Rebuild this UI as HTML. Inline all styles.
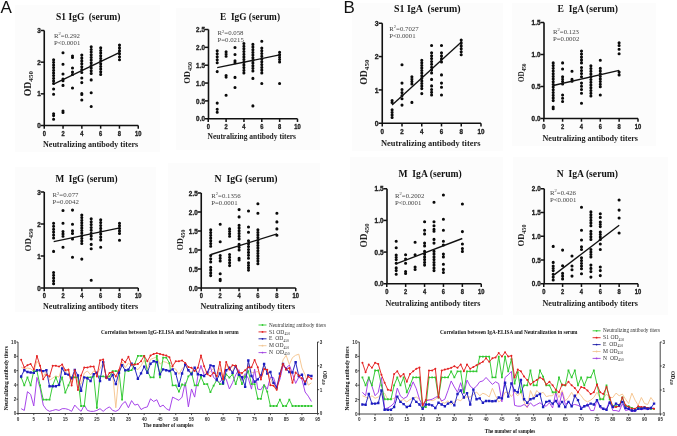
<!DOCTYPE html><html><head><meta charset="utf-8"><style>html,body{margin:0;padding:0;background:#fff;}svg{display:block;filter:blur(0.3px);}</style></head><body>
<svg width="677" height="436" viewBox="0 0 677 436">
<rect x="0" y="0" width="677" height="436" fill="#fff"/>
<rect x="15" y="5" width="145" height="147" fill="#fcfcfc"/>
<rect x="176" y="8" width="144" height="142" fill="#fcfcfc"/>
<rect x="352" y="3" width="151" height="148" fill="#fcfcfc"/>
<rect x="512" y="3" width="144" height="143" fill="#fcfcfc"/>
<rect x="15" y="167" width="141" height="145" fill="#fcfcfc"/>
<rect x="168" y="163" width="152" height="150" fill="#fcfcfc"/>
<rect x="350" y="157" width="153" height="158" fill="#fcfcfc"/>
<rect x="513" y="157" width="155" height="158" fill="#fcfcfc"/>
<text x="0.6" y="12.9" font-family='"Liberation Sans", sans-serif' font-size="17" fill="#111">A</text>
<text x="343.4" y="12.7" font-family='"Liberation Sans", sans-serif' font-size="17" fill="#111">B</text>
<path d="M44.25,30.50 V125.50 H138.25" fill="none" stroke="#111" stroke-width="1.6"/>
<line x1="40.65" y1="125.50" x2="44.25" y2="125.50" stroke="#111" stroke-width="1.5"/>
<text transform="translate(40.65,128.10) scale(0.88,1)" text-anchor="end" font-family='"Liberation Sans", sans-serif' font-weight="bold" font-size="7.2" fill="#222" stroke="#222" stroke-width="0.35">0</text>
<line x1="40.65" y1="93.83" x2="44.25" y2="93.83" stroke="#111" stroke-width="1.5"/>
<text transform="translate(40.65,96.43) scale(0.88,1)" text-anchor="end" font-family='"Liberation Sans", sans-serif' font-weight="bold" font-size="7.2" fill="#222" stroke="#222" stroke-width="0.35">1</text>
<line x1="40.65" y1="62.17" x2="44.25" y2="62.17" stroke="#111" stroke-width="1.5"/>
<text transform="translate(40.65,64.77) scale(0.88,1)" text-anchor="end" font-family='"Liberation Sans", sans-serif' font-weight="bold" font-size="7.2" fill="#222" stroke="#222" stroke-width="0.35">2</text>
<line x1="40.65" y1="30.50" x2="44.25" y2="30.50" stroke="#111" stroke-width="1.5"/>
<text transform="translate(40.65,33.10) scale(0.88,1)" text-anchor="end" font-family='"Liberation Sans", sans-serif' font-weight="bold" font-size="7.2" fill="#222" stroke="#222" stroke-width="0.35">3</text>
<line x1="44.25" y1="125.50" x2="44.25" y2="128.70" stroke="#111" stroke-width="1.5"/>
<text transform="translate(44.25,135.70) scale(0.8,1)" text-anchor="middle" font-family='"Liberation Sans", sans-serif' font-weight="bold" font-size="7.2" fill="#222" stroke="#222" stroke-width="0.35">0</text>
<line x1="63.05" y1="125.50" x2="63.05" y2="128.70" stroke="#111" stroke-width="1.5"/>
<text transform="translate(63.05,135.70) scale(0.8,1)" text-anchor="middle" font-family='"Liberation Sans", sans-serif' font-weight="bold" font-size="7.2" fill="#222" stroke="#222" stroke-width="0.35">2</text>
<line x1="81.85" y1="125.50" x2="81.85" y2="128.70" stroke="#111" stroke-width="1.5"/>
<text transform="translate(81.85,135.70) scale(0.8,1)" text-anchor="middle" font-family='"Liberation Sans", sans-serif' font-weight="bold" font-size="7.2" fill="#222" stroke="#222" stroke-width="0.35">4</text>
<line x1="100.65" y1="125.50" x2="100.65" y2="128.70" stroke="#111" stroke-width="1.5"/>
<text transform="translate(100.65,135.70) scale(0.8,1)" text-anchor="middle" font-family='"Liberation Sans", sans-serif' font-weight="bold" font-size="7.2" fill="#222" stroke="#222" stroke-width="0.35">6</text>
<line x1="119.45" y1="125.50" x2="119.45" y2="128.70" stroke="#111" stroke-width="1.5"/>
<text transform="translate(119.45,135.70) scale(0.8,1)" text-anchor="middle" font-family='"Liberation Sans", sans-serif' font-weight="bold" font-size="7.2" fill="#222" stroke="#222" stroke-width="0.35">8</text>
<line x1="138.25" y1="125.50" x2="138.25" y2="128.70" stroke="#111" stroke-width="1.5"/>
<text transform="translate(138.25,135.70) scale(0.8,1)" text-anchor="middle" font-family='"Liberation Sans", sans-serif' font-weight="bold" font-size="7.2" fill="#222" stroke="#222" stroke-width="0.35">10</text>
<text x="56.00" y="19.80" font-family='"Liberation Serif", serif' font-weight="bold" font-size="10" fill="#111" textLength="64.5" lengthAdjust="spacingAndGlyphs">S1 IgG  (serum)</text>
<text x="43.00" y="146.60" font-family='"Liberation Serif", serif' font-weight="bold" font-size="9" fill="#222" textLength="95.25" lengthAdjust="spacingAndGlyphs">Neutralizing antibody titers</text>
<text transform="translate(30.90,83.70) rotate(-90)" text-anchor="middle" font-family='"Liberation Serif", serif' font-weight="bold" font-size="9.8" fill="#222">OD<tspan font-size="7.06" dy="2.16">450</tspan></text>
<text x="54.00" y="37.80" font-family='"Liberation Serif", serif' font-size="6.8" fill="#444">R<tspan font-size="4.5" dy="-2.5">2</tspan><tspan dy="2.5">=0.292</tspan></text>
<text x="54.00" y="45.20" font-family='"Liberation Serif", serif' font-size="6.8" fill="#444">P&lt;0.0001</text>
<path d="M53.6,59.7m-1.55,0a1.55,1.55 0 1,0 3.1,0a1.55,1.55 0 1,0 -3.1,0M53.6,62.3m-1.55,0a1.55,1.55 0 1,0 3.1,0a1.55,1.55 0 1,0 -3.1,0M53.6,65.0m-1.55,0a1.55,1.55 0 1,0 3.1,0a1.55,1.55 0 1,0 -3.1,0M53.6,67.6m-1.55,0a1.55,1.55 0 1,0 3.1,0a1.55,1.55 0 1,0 -3.1,0M53.6,70.3m-1.55,0a1.55,1.55 0 1,0 3.1,0a1.55,1.55 0 1,0 -3.1,0M53.6,72.9m-1.55,0a1.55,1.55 0 1,0 3.1,0a1.55,1.55 0 1,0 -3.1,0M53.6,75.6m-1.55,0a1.55,1.55 0 1,0 3.1,0a1.55,1.55 0 1,0 -3.1,0M53.6,78.2m-1.55,0a1.55,1.55 0 1,0 3.1,0a1.55,1.55 0 1,0 -3.1,0M53.6,80.9m-1.55,0a1.55,1.55 0 1,0 3.1,0a1.55,1.55 0 1,0 -3.1,0M53.6,83.5m-1.55,0a1.55,1.55 0 1,0 3.1,0a1.55,1.55 0 1,0 -3.1,0M53.6,89.0m-1.55,0a1.55,1.55 0 1,0 3.1,0a1.55,1.55 0 1,0 -3.1,0M53.6,94.2m-1.55,0a1.55,1.55 0 1,0 3.1,0a1.55,1.55 0 1,0 -3.1,0M53.6,113.8m-1.55,0a1.55,1.55 0 1,0 3.1,0a1.55,1.55 0 1,0 -3.1,0M53.6,115.6m-1.55,0a1.55,1.55 0 1,0 3.1,0a1.55,1.55 0 1,0 -3.1,0M53.6,119.3m-1.55,0a1.55,1.55 0 1,0 3.1,0a1.55,1.55 0 1,0 -3.1,0M63.0,52.7m-1.55,0a1.55,1.55 0 1,0 3.1,0a1.55,1.55 0 1,0 -3.1,0M63.0,64.3m-1.55,0a1.55,1.55 0 1,0 3.1,0a1.55,1.55 0 1,0 -3.1,0M63.0,74.0m-1.55,0a1.55,1.55 0 1,0 3.1,0a1.55,1.55 0 1,0 -3.1,0M63.0,79.0m-1.55,0a1.55,1.55 0 1,0 3.1,0a1.55,1.55 0 1,0 -3.1,0M63.0,80.8m-1.55,0a1.55,1.55 0 1,0 3.1,0a1.55,1.55 0 1,0 -3.1,0M63.0,85.4m-1.55,0a1.55,1.55 0 1,0 3.1,0a1.55,1.55 0 1,0 -3.1,0M63.0,111.0m-1.55,0a1.55,1.55 0 1,0 3.1,0a1.55,1.55 0 1,0 -3.1,0M63.0,112.5m-1.55,0a1.55,1.55 0 1,0 3.1,0a1.55,1.55 0 1,0 -3.1,0M72.5,56.0m-1.55,0a1.55,1.55 0 1,0 3.1,0a1.55,1.55 0 1,0 -3.1,0M72.5,57.5m-1.55,0a1.55,1.55 0 1,0 3.1,0a1.55,1.55 0 1,0 -3.1,0M72.5,68.0m-1.55,0a1.55,1.55 0 1,0 3.1,0a1.55,1.55 0 1,0 -3.1,0M72.5,72.0m-1.55,0a1.55,1.55 0 1,0 3.1,0a1.55,1.55 0 1,0 -3.1,0M72.5,74.4m-1.55,0a1.55,1.55 0 1,0 3.1,0a1.55,1.55 0 1,0 -3.1,0M72.5,88.0m-1.55,0a1.55,1.55 0 1,0 3.1,0a1.55,1.55 0 1,0 -3.1,0M81.8,55.1m-1.55,0a1.55,1.55 0 1,0 3.1,0a1.55,1.55 0 1,0 -3.1,0M81.8,58.0m-1.55,0a1.55,1.55 0 1,0 3.1,0a1.55,1.55 0 1,0 -3.1,0M81.8,60.9m-1.55,0a1.55,1.55 0 1,0 3.1,0a1.55,1.55 0 1,0 -3.1,0M81.8,63.8m-1.55,0a1.55,1.55 0 1,0 3.1,0a1.55,1.55 0 1,0 -3.1,0M81.8,66.7m-1.55,0a1.55,1.55 0 1,0 3.1,0a1.55,1.55 0 1,0 -3.1,0M81.8,69.6m-1.55,0a1.55,1.55 0 1,0 3.1,0a1.55,1.55 0 1,0 -3.1,0M81.8,72.5m-1.55,0a1.55,1.55 0 1,0 3.1,0a1.55,1.55 0 1,0 -3.1,0M81.8,78.0m-1.55,0a1.55,1.55 0 1,0 3.1,0a1.55,1.55 0 1,0 -3.1,0M81.8,82.6m-1.55,0a1.55,1.55 0 1,0 3.1,0a1.55,1.55 0 1,0 -3.1,0M81.8,93.6m-1.55,0a1.55,1.55 0 1,0 3.1,0a1.55,1.55 0 1,0 -3.1,0M81.8,94.5m-1.55,0a1.55,1.55 0 1,0 3.1,0a1.55,1.55 0 1,0 -3.1,0M81.8,100.0m-1.55,0a1.55,1.55 0 1,0 3.1,0a1.55,1.55 0 1,0 -3.1,0M91.2,46.8m-1.55,0a1.55,1.55 0 1,0 3.1,0a1.55,1.55 0 1,0 -3.1,0M91.2,49.5m-1.55,0a1.55,1.55 0 1,0 3.1,0a1.55,1.55 0 1,0 -3.1,0M91.2,52.1m-1.55,0a1.55,1.55 0 1,0 3.1,0a1.55,1.55 0 1,0 -3.1,0M91.2,54.8m-1.55,0a1.55,1.55 0 1,0 3.1,0a1.55,1.55 0 1,0 -3.1,0M91.2,57.4m-1.55,0a1.55,1.55 0 1,0 3.1,0a1.55,1.55 0 1,0 -3.1,0M91.2,60.1m-1.55,0a1.55,1.55 0 1,0 3.1,0a1.55,1.55 0 1,0 -3.1,0M91.2,62.8m-1.55,0a1.55,1.55 0 1,0 3.1,0a1.55,1.55 0 1,0 -3.1,0M91.2,65.4m-1.55,0a1.55,1.55 0 1,0 3.1,0a1.55,1.55 0 1,0 -3.1,0M91.2,68.1m-1.55,0a1.55,1.55 0 1,0 3.1,0a1.55,1.55 0 1,0 -3.1,0M91.2,70.7m-1.55,0a1.55,1.55 0 1,0 3.1,0a1.55,1.55 0 1,0 -3.1,0M91.2,73.4m-1.55,0a1.55,1.55 0 1,0 3.1,0a1.55,1.55 0 1,0 -3.1,0M91.2,79.9m-1.55,0a1.55,1.55 0 1,0 3.1,0a1.55,1.55 0 1,0 -3.1,0M91.2,92.7m-1.55,0a1.55,1.55 0 1,0 3.1,0a1.55,1.55 0 1,0 -3.1,0M91.2,106.5m-1.55,0a1.55,1.55 0 1,0 3.1,0a1.55,1.55 0 1,0 -3.1,0M100.7,47.8m-1.55,0a1.55,1.55 0 1,0 3.1,0a1.55,1.55 0 1,0 -3.1,0M100.7,50.5m-1.55,0a1.55,1.55 0 1,0 3.1,0a1.55,1.55 0 1,0 -3.1,0M100.7,53.1m-1.55,0a1.55,1.55 0 1,0 3.1,0a1.55,1.55 0 1,0 -3.1,0M100.7,55.8m-1.55,0a1.55,1.55 0 1,0 3.1,0a1.55,1.55 0 1,0 -3.1,0M100.7,58.4m-1.55,0a1.55,1.55 0 1,0 3.1,0a1.55,1.55 0 1,0 -3.1,0M100.7,61.1m-1.55,0a1.55,1.55 0 1,0 3.1,0a1.55,1.55 0 1,0 -3.1,0M100.7,63.8m-1.55,0a1.55,1.55 0 1,0 3.1,0a1.55,1.55 0 1,0 -3.1,0M100.7,66.4m-1.55,0a1.55,1.55 0 1,0 3.1,0a1.55,1.55 0 1,0 -3.1,0M100.7,69.1m-1.55,0a1.55,1.55 0 1,0 3.1,0a1.55,1.55 0 1,0 -3.1,0M100.7,71.7m-1.55,0a1.55,1.55 0 1,0 3.1,0a1.55,1.55 0 1,0 -3.1,0M100.7,74.4m-1.55,0a1.55,1.55 0 1,0 3.1,0a1.55,1.55 0 1,0 -3.1,0M119.5,45.0m-1.55,0a1.55,1.55 0 1,0 3.1,0a1.55,1.55 0 1,0 -3.1,0M119.5,47.9m-1.55,0a1.55,1.55 0 1,0 3.1,0a1.55,1.55 0 1,0 -3.1,0M119.5,50.9m-1.55,0a1.55,1.55 0 1,0 3.1,0a1.55,1.55 0 1,0 -3.1,0M119.5,53.8m-1.55,0a1.55,1.55 0 1,0 3.1,0a1.55,1.55 0 1,0 -3.1,0M119.5,56.8m-1.55,0a1.55,1.55 0 1,0 3.1,0a1.55,1.55 0 1,0 -3.1,0M119.5,59.7m-1.55,0a1.55,1.55 0 1,0 3.1,0a1.55,1.55 0 1,0 -3.1,0" fill="#0a0a0a"/>
<line x1="54.1" y1="83.9" x2="119.8" y2="52.3" stroke="#111" stroke-width="1.35"/>
<path d="M208.50,29.50 V118.75 H297.50" fill="none" stroke="#111" stroke-width="1.6"/>
<line x1="204.90" y1="118.75" x2="208.50" y2="118.75" stroke="#111" stroke-width="1.5"/>
<text transform="translate(204.90,121.35) scale(0.88,1)" text-anchor="end" font-family='"Liberation Sans", sans-serif' font-weight="bold" font-size="7.2" fill="#222" stroke="#222" stroke-width="0.35">0.0</text>
<line x1="204.90" y1="100.90" x2="208.50" y2="100.90" stroke="#111" stroke-width="1.5"/>
<text transform="translate(204.90,103.50) scale(0.88,1)" text-anchor="end" font-family='"Liberation Sans", sans-serif' font-weight="bold" font-size="7.2" fill="#222" stroke="#222" stroke-width="0.35">0.5</text>
<line x1="204.90" y1="83.05" x2="208.50" y2="83.05" stroke="#111" stroke-width="1.5"/>
<text transform="translate(204.90,85.65) scale(0.88,1)" text-anchor="end" font-family='"Liberation Sans", sans-serif' font-weight="bold" font-size="7.2" fill="#222" stroke="#222" stroke-width="0.35">1.0</text>
<line x1="204.90" y1="65.20" x2="208.50" y2="65.20" stroke="#111" stroke-width="1.5"/>
<text transform="translate(204.90,67.80) scale(0.88,1)" text-anchor="end" font-family='"Liberation Sans", sans-serif' font-weight="bold" font-size="7.2" fill="#222" stroke="#222" stroke-width="0.35">1.5</text>
<line x1="204.90" y1="47.35" x2="208.50" y2="47.35" stroke="#111" stroke-width="1.5"/>
<text transform="translate(204.90,49.95) scale(0.88,1)" text-anchor="end" font-family='"Liberation Sans", sans-serif' font-weight="bold" font-size="7.2" fill="#222" stroke="#222" stroke-width="0.35">2.0</text>
<line x1="204.90" y1="29.50" x2="208.50" y2="29.50" stroke="#111" stroke-width="1.5"/>
<text transform="translate(204.90,32.10) scale(0.88,1)" text-anchor="end" font-family='"Liberation Sans", sans-serif' font-weight="bold" font-size="7.2" fill="#222" stroke="#222" stroke-width="0.35">2.5</text>
<line x1="208.25" y1="118.75" x2="208.25" y2="121.95" stroke="#111" stroke-width="1.5"/>
<text transform="translate(208.25,128.95) scale(0.8,1)" text-anchor="middle" font-family='"Liberation Sans", sans-serif' font-weight="bold" font-size="7.2" fill="#222" stroke="#222" stroke-width="0.35">0</text>
<line x1="226.10" y1="118.75" x2="226.10" y2="121.95" stroke="#111" stroke-width="1.5"/>
<text transform="translate(226.10,128.95) scale(0.8,1)" text-anchor="middle" font-family='"Liberation Sans", sans-serif' font-weight="bold" font-size="7.2" fill="#222" stroke="#222" stroke-width="0.35">2</text>
<line x1="243.95" y1="118.75" x2="243.95" y2="121.95" stroke="#111" stroke-width="1.5"/>
<text transform="translate(243.95,128.95) scale(0.8,1)" text-anchor="middle" font-family='"Liberation Sans", sans-serif' font-weight="bold" font-size="7.2" fill="#222" stroke="#222" stroke-width="0.35">4</text>
<line x1="261.80" y1="118.75" x2="261.80" y2="121.95" stroke="#111" stroke-width="1.5"/>
<text transform="translate(261.80,128.95) scale(0.8,1)" text-anchor="middle" font-family='"Liberation Sans", sans-serif' font-weight="bold" font-size="7.2" fill="#222" stroke="#222" stroke-width="0.35">6</text>
<line x1="279.65" y1="118.75" x2="279.65" y2="121.95" stroke="#111" stroke-width="1.5"/>
<text transform="translate(279.65,128.95) scale(0.8,1)" text-anchor="middle" font-family='"Liberation Sans", sans-serif' font-weight="bold" font-size="7.2" fill="#222" stroke="#222" stroke-width="0.35">8</text>
<line x1="297.50" y1="118.75" x2="297.50" y2="121.95" stroke="#111" stroke-width="1.5"/>
<text transform="translate(297.50,128.95) scale(0.8,1)" text-anchor="middle" font-family='"Liberation Sans", sans-serif' font-weight="bold" font-size="7.2" fill="#222" stroke="#222" stroke-width="0.35">10</text>
<text x="220.00" y="19.50" font-family='"Liberation Serif", serif' font-weight="bold" font-size="10" fill="#111" textLength="60" lengthAdjust="spacingAndGlyphs">E IgG (serum)</text>
<text x="207.50" y="139.00" font-family='"Liberation Serif", serif' font-weight="bold" font-size="9" fill="#222" textLength="88.50" lengthAdjust="spacingAndGlyphs">Neutralizing antibody titers</text>
<text transform="translate(189.90,72.80) rotate(-90)" text-anchor="middle" font-family='"Liberation Serif", serif' font-weight="bold" font-size="8.5" fill="#222">OD<tspan font-size="6.12" dy="1.87">450</tspan></text>
<text x="217.50" y="35.00" font-family='"Liberation Serif", serif' font-size="6.8" fill="#444">R<tspan font-size="4.5" dy="-2.5">2</tspan><tspan dy="2.5">=0.058</tspan></text>
<text x="217.50" y="42.40" font-family='"Liberation Serif", serif' font-size="6.8" fill="#444">P=0.0215</text>
<path d="M217.2,50.8m-1.55,0a1.55,1.55 0 1,0 3.1,0a1.55,1.55 0 1,0 -3.1,0M217.2,53.8m-1.55,0a1.55,1.55 0 1,0 3.1,0a1.55,1.55 0 1,0 -3.1,0M217.2,56.8m-1.55,0a1.55,1.55 0 1,0 3.1,0a1.55,1.55 0 1,0 -3.1,0M217.2,59.8m-1.55,0a1.55,1.55 0 1,0 3.1,0a1.55,1.55 0 1,0 -3.1,0M217.2,62.8m-1.55,0a1.55,1.55 0 1,0 3.1,0a1.55,1.55 0 1,0 -3.1,0M217.2,71.6m-1.55,0a1.55,1.55 0 1,0 3.1,0a1.55,1.55 0 1,0 -3.1,0M217.2,103.1m-1.55,0a1.55,1.55 0 1,0 3.1,0a1.55,1.55 0 1,0 -3.1,0M217.2,109.2m-1.55,0a1.55,1.55 0 1,0 3.1,0a1.55,1.55 0 1,0 -3.1,0M217.2,112.3m-1.55,0a1.55,1.55 0 1,0 3.1,0a1.55,1.55 0 1,0 -3.1,0M226.1,51.8m-1.55,0a1.55,1.55 0 1,0 3.1,0a1.55,1.55 0 1,0 -3.1,0M226.1,54.0m-1.55,0a1.55,1.55 0 1,0 3.1,0a1.55,1.55 0 1,0 -3.1,0M226.1,56.3m-1.55,0a1.55,1.55 0 1,0 3.1,0a1.55,1.55 0 1,0 -3.1,0M226.1,75.6m-1.55,0a1.55,1.55 0 1,0 3.1,0a1.55,1.55 0 1,0 -3.1,0M226.1,77.1m-1.55,0a1.55,1.55 0 1,0 3.1,0a1.55,1.55 0 1,0 -3.1,0M226.1,95.2m-1.55,0a1.55,1.55 0 1,0 3.1,0a1.55,1.55 0 1,0 -3.1,0M235.0,47.5m-1.55,0a1.55,1.55 0 1,0 3.1,0a1.55,1.55 0 1,0 -3.1,0M235.0,54.5m-1.55,0a1.55,1.55 0 1,0 3.1,0a1.55,1.55 0 1,0 -3.1,0M235.0,60.9m-1.55,0a1.55,1.55 0 1,0 3.1,0a1.55,1.55 0 1,0 -3.1,0M235.0,62.8m-1.55,0a1.55,1.55 0 1,0 3.1,0a1.55,1.55 0 1,0 -3.1,0M235.0,77.4m-1.55,0a1.55,1.55 0 1,0 3.1,0a1.55,1.55 0 1,0 -3.1,0M235.0,87.5m-1.55,0a1.55,1.55 0 1,0 3.1,0a1.55,1.55 0 1,0 -3.1,0M243.9,43.5m-1.55,0a1.55,1.55 0 1,0 3.1,0a1.55,1.55 0 1,0 -3.1,0M243.9,46.2m-1.55,0a1.55,1.55 0 1,0 3.1,0a1.55,1.55 0 1,0 -3.1,0M243.9,48.8m-1.55,0a1.55,1.55 0 1,0 3.1,0a1.55,1.55 0 1,0 -3.1,0M243.9,51.5m-1.55,0a1.55,1.55 0 1,0 3.1,0a1.55,1.55 0 1,0 -3.1,0M243.9,54.2m-1.55,0a1.55,1.55 0 1,0 3.1,0a1.55,1.55 0 1,0 -3.1,0M243.9,56.9m-1.55,0a1.55,1.55 0 1,0 3.1,0a1.55,1.55 0 1,0 -3.1,0M243.9,59.5m-1.55,0a1.55,1.55 0 1,0 3.1,0a1.55,1.55 0 1,0 -3.1,0M243.9,62.2m-1.55,0a1.55,1.55 0 1,0 3.1,0a1.55,1.55 0 1,0 -3.1,0M243.9,64.9m-1.55,0a1.55,1.55 0 1,0 3.1,0a1.55,1.55 0 1,0 -3.1,0M243.9,67.6m-1.55,0a1.55,1.55 0 1,0 3.1,0a1.55,1.55 0 1,0 -3.1,0M243.9,70.2m-1.55,0a1.55,1.55 0 1,0 3.1,0a1.55,1.55 0 1,0 -3.1,0M243.9,72.9m-1.55,0a1.55,1.55 0 1,0 3.1,0a1.55,1.55 0 1,0 -3.1,0M252.9,44.4m-1.55,0a1.55,1.55 0 1,0 3.1,0a1.55,1.55 0 1,0 -3.1,0M252.9,47.1m-1.55,0a1.55,1.55 0 1,0 3.1,0a1.55,1.55 0 1,0 -3.1,0M252.9,49.7m-1.55,0a1.55,1.55 0 1,0 3.1,0a1.55,1.55 0 1,0 -3.1,0M252.9,52.4m-1.55,0a1.55,1.55 0 1,0 3.1,0a1.55,1.55 0 1,0 -3.1,0M252.9,55.0m-1.55,0a1.55,1.55 0 1,0 3.1,0a1.55,1.55 0 1,0 -3.1,0M252.9,57.7m-1.55,0a1.55,1.55 0 1,0 3.1,0a1.55,1.55 0 1,0 -3.1,0M252.9,60.4m-1.55,0a1.55,1.55 0 1,0 3.1,0a1.55,1.55 0 1,0 -3.1,0M252.9,63.0m-1.55,0a1.55,1.55 0 1,0 3.1,0a1.55,1.55 0 1,0 -3.1,0M252.9,65.7m-1.55,0a1.55,1.55 0 1,0 3.1,0a1.55,1.55 0 1,0 -3.1,0M252.9,68.3m-1.55,0a1.55,1.55 0 1,0 3.1,0a1.55,1.55 0 1,0 -3.1,0M252.9,71.0m-1.55,0a1.55,1.55 0 1,0 3.1,0a1.55,1.55 0 1,0 -3.1,0M252.9,78.4m-1.55,0a1.55,1.55 0 1,0 3.1,0a1.55,1.55 0 1,0 -3.1,0M252.9,105.9m-1.55,0a1.55,1.55 0 1,0 3.1,0a1.55,1.55 0 1,0 -3.1,0M261.8,41.3m-1.55,0a1.55,1.55 0 1,0 3.1,0a1.55,1.55 0 1,0 -3.1,0M261.8,48.0m-1.55,0a1.55,1.55 0 1,0 3.1,0a1.55,1.55 0 1,0 -3.1,0M261.8,50.8m-1.55,0a1.55,1.55 0 1,0 3.1,0a1.55,1.55 0 1,0 -3.1,0M261.8,53.5m-1.55,0a1.55,1.55 0 1,0 3.1,0a1.55,1.55 0 1,0 -3.1,0M261.8,56.3m-1.55,0a1.55,1.55 0 1,0 3.1,0a1.55,1.55 0 1,0 -3.1,0M261.8,59.1m-1.55,0a1.55,1.55 0 1,0 3.1,0a1.55,1.55 0 1,0 -3.1,0M261.8,61.8m-1.55,0a1.55,1.55 0 1,0 3.1,0a1.55,1.55 0 1,0 -3.1,0M261.8,64.6m-1.55,0a1.55,1.55 0 1,0 3.1,0a1.55,1.55 0 1,0 -3.1,0M261.8,67.4m-1.55,0a1.55,1.55 0 1,0 3.1,0a1.55,1.55 0 1,0 -3.1,0M261.8,70.1m-1.55,0a1.55,1.55 0 1,0 3.1,0a1.55,1.55 0 1,0 -3.1,0M261.8,72.9m-1.55,0a1.55,1.55 0 1,0 3.1,0a1.55,1.55 0 1,0 -3.1,0M261.8,83.5m-1.55,0a1.55,1.55 0 1,0 3.1,0a1.55,1.55 0 1,0 -3.1,0M279.6,52.3m-1.55,0a1.55,1.55 0 1,0 3.1,0a1.55,1.55 0 1,0 -3.1,0M279.6,54.7m-1.55,0a1.55,1.55 0 1,0 3.1,0a1.55,1.55 0 1,0 -3.1,0M279.6,57.1m-1.55,0a1.55,1.55 0 1,0 3.1,0a1.55,1.55 0 1,0 -3.1,0M279.6,59.5m-1.55,0a1.55,1.55 0 1,0 3.1,0a1.55,1.55 0 1,0 -3.1,0M279.6,61.9m-1.55,0a1.55,1.55 0 1,0 3.1,0a1.55,1.55 0 1,0 -3.1,0M279.6,83.5m-1.55,0a1.55,1.55 0 1,0 3.1,0a1.55,1.55 0 1,0 -3.1,0" fill="#0a0a0a"/>
<line x1="217.2" y1="67.7" x2="279.6" y2="54.9" stroke="#111" stroke-width="1.35"/>
<path d="M44.25,192.00 V288.00 H138.25" fill="none" stroke="#111" stroke-width="1.6"/>
<line x1="40.65" y1="288.00" x2="44.25" y2="288.00" stroke="#111" stroke-width="1.5"/>
<text transform="translate(40.65,290.60) scale(0.88,1)" text-anchor="end" font-family='"Liberation Sans", sans-serif' font-weight="bold" font-size="7.2" fill="#222" stroke="#222" stroke-width="0.35">0</text>
<line x1="40.65" y1="256.00" x2="44.25" y2="256.00" stroke="#111" stroke-width="1.5"/>
<text transform="translate(40.65,258.60) scale(0.88,1)" text-anchor="end" font-family='"Liberation Sans", sans-serif' font-weight="bold" font-size="7.2" fill="#222" stroke="#222" stroke-width="0.35">1</text>
<line x1="40.65" y1="224.00" x2="44.25" y2="224.00" stroke="#111" stroke-width="1.5"/>
<text transform="translate(40.65,226.60) scale(0.88,1)" text-anchor="end" font-family='"Liberation Sans", sans-serif' font-weight="bold" font-size="7.2" fill="#222" stroke="#222" stroke-width="0.35">2</text>
<line x1="40.65" y1="192.00" x2="44.25" y2="192.00" stroke="#111" stroke-width="1.5"/>
<text transform="translate(40.65,194.60) scale(0.88,1)" text-anchor="end" font-family='"Liberation Sans", sans-serif' font-weight="bold" font-size="7.2" fill="#222" stroke="#222" stroke-width="0.35">3</text>
<line x1="44.25" y1="288.00" x2="44.25" y2="291.20" stroke="#111" stroke-width="1.5"/>
<text transform="translate(44.25,298.20) scale(0.8,1)" text-anchor="middle" font-family='"Liberation Sans", sans-serif' font-weight="bold" font-size="7.2" fill="#222" stroke="#222" stroke-width="0.35">0</text>
<line x1="63.05" y1="288.00" x2="63.05" y2="291.20" stroke="#111" stroke-width="1.5"/>
<text transform="translate(63.05,298.20) scale(0.8,1)" text-anchor="middle" font-family='"Liberation Sans", sans-serif' font-weight="bold" font-size="7.2" fill="#222" stroke="#222" stroke-width="0.35">2</text>
<line x1="81.85" y1="288.00" x2="81.85" y2="291.20" stroke="#111" stroke-width="1.5"/>
<text transform="translate(81.85,298.20) scale(0.8,1)" text-anchor="middle" font-family='"Liberation Sans", sans-serif' font-weight="bold" font-size="7.2" fill="#222" stroke="#222" stroke-width="0.35">4</text>
<line x1="100.65" y1="288.00" x2="100.65" y2="291.20" stroke="#111" stroke-width="1.5"/>
<text transform="translate(100.65,298.20) scale(0.8,1)" text-anchor="middle" font-family='"Liberation Sans", sans-serif' font-weight="bold" font-size="7.2" fill="#222" stroke="#222" stroke-width="0.35">6</text>
<line x1="119.45" y1="288.00" x2="119.45" y2="291.20" stroke="#111" stroke-width="1.5"/>
<text transform="translate(119.45,298.20) scale(0.8,1)" text-anchor="middle" font-family='"Liberation Sans", sans-serif' font-weight="bold" font-size="7.2" fill="#222" stroke="#222" stroke-width="0.35">8</text>
<line x1="138.25" y1="288.00" x2="138.25" y2="291.20" stroke="#111" stroke-width="1.5"/>
<text transform="translate(138.25,298.20) scale(0.8,1)" text-anchor="middle" font-family='"Liberation Sans", sans-serif' font-weight="bold" font-size="7.2" fill="#222" stroke="#222" stroke-width="0.35">10</text>
<text x="55.50" y="182.00" font-family='"Liberation Serif", serif' font-weight="bold" font-size="10" fill="#111" textLength="62" lengthAdjust="spacingAndGlyphs">M IgG (serum)</text>
<text x="43.00" y="308.80" font-family='"Liberation Serif", serif' font-weight="bold" font-size="9" fill="#222" textLength="95.25" lengthAdjust="spacingAndGlyphs">Neutralizing antibody titers</text>
<text transform="translate(30.80,240.00) rotate(-90)" text-anchor="middle" font-family='"Liberation Serif", serif' font-weight="bold" font-size="8.9" fill="#222">OD<tspan font-size="6.41" dy="1.96">450</tspan></text>
<text x="52.50" y="197.00" font-family='"Liberation Serif", serif' font-size="6.8" fill="#444">R<tspan font-size="4.5" dy="-2.5">2</tspan><tspan dy="2.5">=0.077</tspan></text>
<text x="52.50" y="204.40" font-family='"Liberation Serif", serif' font-size="6.8" fill="#444">P=0.0042</text>
<path d="M53.6,223.3m-1.55,0a1.55,1.55 0 1,0 3.1,0a1.55,1.55 0 1,0 -3.1,0M53.6,226.2m-1.55,0a1.55,1.55 0 1,0 3.1,0a1.55,1.55 0 1,0 -3.1,0M53.6,229.2m-1.55,0a1.55,1.55 0 1,0 3.1,0a1.55,1.55 0 1,0 -3.1,0M53.6,232.1m-1.55,0a1.55,1.55 0 1,0 3.1,0a1.55,1.55 0 1,0 -3.1,0M53.6,235.1m-1.55,0a1.55,1.55 0 1,0 3.1,0a1.55,1.55 0 1,0 -3.1,0M53.6,238.0m-1.55,0a1.55,1.55 0 1,0 3.1,0a1.55,1.55 0 1,0 -3.1,0M53.6,251.4m-1.55,0a1.55,1.55 0 1,0 3.1,0a1.55,1.55 0 1,0 -3.1,0M53.6,272.5m-1.55,0a1.55,1.55 0 1,0 3.1,0a1.55,1.55 0 1,0 -3.1,0M53.6,275.3m-1.55,0a1.55,1.55 0 1,0 3.1,0a1.55,1.55 0 1,0 -3.1,0M53.6,278.1m-1.55,0a1.55,1.55 0 1,0 3.1,0a1.55,1.55 0 1,0 -3.1,0M53.6,280.9m-1.55,0a1.55,1.55 0 1,0 3.1,0a1.55,1.55 0 1,0 -3.1,0M53.6,283.8m-1.55,0a1.55,1.55 0 1,0 3.1,0a1.55,1.55 0 1,0 -3.1,0M63.0,210.5m-1.55,0a1.55,1.55 0 1,0 3.1,0a1.55,1.55 0 1,0 -3.1,0M63.0,223.3m-1.55,0a1.55,1.55 0 1,0 3.1,0a1.55,1.55 0 1,0 -3.1,0M63.0,231.6m-1.55,0a1.55,1.55 0 1,0 3.1,0a1.55,1.55 0 1,0 -3.1,0M63.0,233.9m-1.55,0a1.55,1.55 0 1,0 3.1,0a1.55,1.55 0 1,0 -3.1,0M63.0,236.2m-1.55,0a1.55,1.55 0 1,0 3.1,0a1.55,1.55 0 1,0 -3.1,0M63.0,247.2m-1.55,0a1.55,1.55 0 1,0 3.1,0a1.55,1.55 0 1,0 -3.1,0M72.5,210.1m-1.55,0a1.55,1.55 0 1,0 3.1,0a1.55,1.55 0 1,0 -3.1,0M72.5,224.3m-1.55,0a1.55,1.55 0 1,0 3.1,0a1.55,1.55 0 1,0 -3.1,0M72.5,230.7m-1.55,0a1.55,1.55 0 1,0 3.1,0a1.55,1.55 0 1,0 -3.1,0M72.5,233.4m-1.55,0a1.55,1.55 0 1,0 3.1,0a1.55,1.55 0 1,0 -3.1,0M72.5,239.0m-1.55,0a1.55,1.55 0 1,0 3.1,0a1.55,1.55 0 1,0 -3.1,0M72.5,257.3m-1.55,0a1.55,1.55 0 1,0 3.1,0a1.55,1.55 0 1,0 -3.1,0M81.8,215.0m-1.55,0a1.55,1.55 0 1,0 3.1,0a1.55,1.55 0 1,0 -3.1,0M81.8,217.6m-1.55,0a1.55,1.55 0 1,0 3.1,0a1.55,1.55 0 1,0 -3.1,0M81.8,220.2m-1.55,0a1.55,1.55 0 1,0 3.1,0a1.55,1.55 0 1,0 -3.1,0M81.8,222.8m-1.55,0a1.55,1.55 0 1,0 3.1,0a1.55,1.55 0 1,0 -3.1,0M81.8,225.4m-1.55,0a1.55,1.55 0 1,0 3.1,0a1.55,1.55 0 1,0 -3.1,0M81.8,228.0m-1.55,0a1.55,1.55 0 1,0 3.1,0a1.55,1.55 0 1,0 -3.1,0M81.8,230.5m-1.55,0a1.55,1.55 0 1,0 3.1,0a1.55,1.55 0 1,0 -3.1,0M81.8,233.1m-1.55,0a1.55,1.55 0 1,0 3.1,0a1.55,1.55 0 1,0 -3.1,0M81.8,235.7m-1.55,0a1.55,1.55 0 1,0 3.1,0a1.55,1.55 0 1,0 -3.1,0M81.8,238.3m-1.55,0a1.55,1.55 0 1,0 3.1,0a1.55,1.55 0 1,0 -3.1,0M81.8,240.9m-1.55,0a1.55,1.55 0 1,0 3.1,0a1.55,1.55 0 1,0 -3.1,0M81.8,243.5m-1.55,0a1.55,1.55 0 1,0 3.1,0a1.55,1.55 0 1,0 -3.1,0M81.8,259.1m-1.55,0a1.55,1.55 0 1,0 3.1,0a1.55,1.55 0 1,0 -3.1,0M91.2,218.8m-1.55,0a1.55,1.55 0 1,0 3.1,0a1.55,1.55 0 1,0 -3.1,0M91.2,221.7m-1.55,0a1.55,1.55 0 1,0 3.1,0a1.55,1.55 0 1,0 -3.1,0M91.2,224.6m-1.55,0a1.55,1.55 0 1,0 3.1,0a1.55,1.55 0 1,0 -3.1,0M91.2,227.5m-1.55,0a1.55,1.55 0 1,0 3.1,0a1.55,1.55 0 1,0 -3.1,0M91.2,230.3m-1.55,0a1.55,1.55 0 1,0 3.1,0a1.55,1.55 0 1,0 -3.1,0M91.2,233.2m-1.55,0a1.55,1.55 0 1,0 3.1,0a1.55,1.55 0 1,0 -3.1,0M91.2,236.1m-1.55,0a1.55,1.55 0 1,0 3.1,0a1.55,1.55 0 1,0 -3.1,0M91.2,239.0m-1.55,0a1.55,1.55 0 1,0 3.1,0a1.55,1.55 0 1,0 -3.1,0M91.2,244.4m-1.55,0a1.55,1.55 0 1,0 3.1,0a1.55,1.55 0 1,0 -3.1,0M91.2,248.7m-1.55,0a1.55,1.55 0 1,0 3.1,0a1.55,1.55 0 1,0 -3.1,0M91.2,280.2m-1.55,0a1.55,1.55 0 1,0 3.1,0a1.55,1.55 0 1,0 -3.1,0M100.7,219.7m-1.55,0a1.55,1.55 0 1,0 3.1,0a1.55,1.55 0 1,0 -3.1,0M100.7,222.6m-1.55,0a1.55,1.55 0 1,0 3.1,0a1.55,1.55 0 1,0 -3.1,0M100.7,225.5m-1.55,0a1.55,1.55 0 1,0 3.1,0a1.55,1.55 0 1,0 -3.1,0M100.7,228.4m-1.55,0a1.55,1.55 0 1,0 3.1,0a1.55,1.55 0 1,0 -3.1,0M100.7,231.2m-1.55,0a1.55,1.55 0 1,0 3.1,0a1.55,1.55 0 1,0 -3.1,0M100.7,234.1m-1.55,0a1.55,1.55 0 1,0 3.1,0a1.55,1.55 0 1,0 -3.1,0M100.7,237.0m-1.55,0a1.55,1.55 0 1,0 3.1,0a1.55,1.55 0 1,0 -3.1,0M100.7,239.9m-1.55,0a1.55,1.55 0 1,0 3.1,0a1.55,1.55 0 1,0 -3.1,0M100.7,247.2m-1.55,0a1.55,1.55 0 1,0 3.1,0a1.55,1.55 0 1,0 -3.1,0M119.5,223.3m-1.55,0a1.55,1.55 0 1,0 3.1,0a1.55,1.55 0 1,0 -3.1,0M119.5,225.8m-1.55,0a1.55,1.55 0 1,0 3.1,0a1.55,1.55 0 1,0 -3.1,0M119.5,228.4m-1.55,0a1.55,1.55 0 1,0 3.1,0a1.55,1.55 0 1,0 -3.1,0M119.5,230.9m-1.55,0a1.55,1.55 0 1,0 3.1,0a1.55,1.55 0 1,0 -3.1,0M119.5,233.4m-1.55,0a1.55,1.55 0 1,0 3.1,0a1.55,1.55 0 1,0 -3.1,0M119.5,240.2m-1.55,0a1.55,1.55 0 1,0 3.1,0a1.55,1.55 0 1,0 -3.1,0" fill="#0a0a0a"/>
<line x1="53.7" y1="241.7" x2="119.8" y2="227.9" stroke="#111" stroke-width="1.35"/>
<path d="M201.25,193.00 V288.00 H295.75" fill="none" stroke="#111" stroke-width="1.6"/>
<line x1="197.65" y1="288.00" x2="201.25" y2="288.00" stroke="#111" stroke-width="1.5"/>
<text transform="translate(197.65,290.60) scale(0.88,1)" text-anchor="end" font-family='"Liberation Sans", sans-serif' font-weight="bold" font-size="7.2" fill="#222" stroke="#222" stroke-width="0.35">0.0</text>
<line x1="197.65" y1="269.00" x2="201.25" y2="269.00" stroke="#111" stroke-width="1.5"/>
<text transform="translate(197.65,271.60) scale(0.88,1)" text-anchor="end" font-family='"Liberation Sans", sans-serif' font-weight="bold" font-size="7.2" fill="#222" stroke="#222" stroke-width="0.35">0.5</text>
<line x1="197.65" y1="250.00" x2="201.25" y2="250.00" stroke="#111" stroke-width="1.5"/>
<text transform="translate(197.65,252.60) scale(0.88,1)" text-anchor="end" font-family='"Liberation Sans", sans-serif' font-weight="bold" font-size="7.2" fill="#222" stroke="#222" stroke-width="0.35">1.0</text>
<line x1="197.65" y1="231.00" x2="201.25" y2="231.00" stroke="#111" stroke-width="1.5"/>
<text transform="translate(197.65,233.60) scale(0.88,1)" text-anchor="end" font-family='"Liberation Sans", sans-serif' font-weight="bold" font-size="7.2" fill="#222" stroke="#222" stroke-width="0.35">1.5</text>
<line x1="197.65" y1="212.00" x2="201.25" y2="212.00" stroke="#111" stroke-width="1.5"/>
<text transform="translate(197.65,214.60) scale(0.88,1)" text-anchor="end" font-family='"Liberation Sans", sans-serif' font-weight="bold" font-size="7.2" fill="#222" stroke="#222" stroke-width="0.35">2.0</text>
<line x1="197.65" y1="193.00" x2="201.25" y2="193.00" stroke="#111" stroke-width="1.5"/>
<text transform="translate(197.65,195.60) scale(0.88,1)" text-anchor="end" font-family='"Liberation Sans", sans-serif' font-weight="bold" font-size="7.2" fill="#222" stroke="#222" stroke-width="0.35">2.5</text>
<line x1="201.25" y1="288.00" x2="201.25" y2="291.20" stroke="#111" stroke-width="1.5"/>
<text transform="translate(201.25,298.20) scale(0.8,1)" text-anchor="middle" font-family='"Liberation Sans", sans-serif' font-weight="bold" font-size="7.2" fill="#222" stroke="#222" stroke-width="0.35">0</text>
<line x1="220.15" y1="288.00" x2="220.15" y2="291.20" stroke="#111" stroke-width="1.5"/>
<text transform="translate(220.15,298.20) scale(0.8,1)" text-anchor="middle" font-family='"Liberation Sans", sans-serif' font-weight="bold" font-size="7.2" fill="#222" stroke="#222" stroke-width="0.35">2</text>
<line x1="239.05" y1="288.00" x2="239.05" y2="291.20" stroke="#111" stroke-width="1.5"/>
<text transform="translate(239.05,298.20) scale(0.8,1)" text-anchor="middle" font-family='"Liberation Sans", sans-serif' font-weight="bold" font-size="7.2" fill="#222" stroke="#222" stroke-width="0.35">4</text>
<line x1="257.95" y1="288.00" x2="257.95" y2="291.20" stroke="#111" stroke-width="1.5"/>
<text transform="translate(257.95,298.20) scale(0.8,1)" text-anchor="middle" font-family='"Liberation Sans", sans-serif' font-weight="bold" font-size="7.2" fill="#222" stroke="#222" stroke-width="0.35">6</text>
<line x1="276.85" y1="288.00" x2="276.85" y2="291.20" stroke="#111" stroke-width="1.5"/>
<text transform="translate(276.85,298.20) scale(0.8,1)" text-anchor="middle" font-family='"Liberation Sans", sans-serif' font-weight="bold" font-size="7.2" fill="#222" stroke="#222" stroke-width="0.35">8</text>
<line x1="295.75" y1="288.00" x2="295.75" y2="291.20" stroke="#111" stroke-width="1.5"/>
<text transform="translate(295.75,298.20) scale(0.8,1)" text-anchor="middle" font-family='"Liberation Sans", sans-serif' font-weight="bold" font-size="7.2" fill="#222" stroke="#222" stroke-width="0.35">10</text>
<text x="214.50" y="182.00" font-family='"Liberation Serif", serif' font-weight="bold" font-size="10" fill="#111" textLength="63" lengthAdjust="spacingAndGlyphs">N IgG (serum)</text>
<text x="200.50" y="308.80" font-family='"Liberation Serif", serif' font-weight="bold" font-size="9" fill="#222" textLength="94.50" lengthAdjust="spacingAndGlyphs">Neutralizing antibody titers</text>
<text transform="translate(183.00,240.00) rotate(-90)" text-anchor="middle" font-family='"Liberation Serif", serif' font-weight="bold" font-size="8.0" fill="#222">OD<tspan font-size="5.76" dy="1.76">450</tspan></text>
<text x="211.25" y="197.50" font-family='"Liberation Serif", serif' font-size="6.8" fill="#444">R<tspan font-size="4.5" dy="-2.5">2</tspan><tspan dy="2.5">=0.1356</tspan></text>
<text x="211.25" y="204.90" font-family='"Liberation Serif", serif' font-size="6.8" fill="#444">P=0.0001</text>
<path d="M210.7,229.8m-1.55,0a1.55,1.55 0 1,0 3.1,0a1.55,1.55 0 1,0 -3.1,0M210.7,232.6m-1.55,0a1.55,1.55 0 1,0 3.1,0a1.55,1.55 0 1,0 -3.1,0M210.7,235.3m-1.55,0a1.55,1.55 0 1,0 3.1,0a1.55,1.55 0 1,0 -3.1,0M210.7,238.1m-1.55,0a1.55,1.55 0 1,0 3.1,0a1.55,1.55 0 1,0 -3.1,0M210.7,240.8m-1.55,0a1.55,1.55 0 1,0 3.1,0a1.55,1.55 0 1,0 -3.1,0M210.7,243.6m-1.55,0a1.55,1.55 0 1,0 3.1,0a1.55,1.55 0 1,0 -3.1,0M210.7,246.3m-1.55,0a1.55,1.55 0 1,0 3.1,0a1.55,1.55 0 1,0 -3.1,0M210.7,255.5m-1.55,0a1.55,1.55 0 1,0 3.1,0a1.55,1.55 0 1,0 -3.1,0M210.7,258.7m-1.55,0a1.55,1.55 0 1,0 3.1,0a1.55,1.55 0 1,0 -3.1,0M210.7,261.9m-1.55,0a1.55,1.55 0 1,0 3.1,0a1.55,1.55 0 1,0 -3.1,0M210.7,267.4m-1.55,0a1.55,1.55 0 1,0 3.1,0a1.55,1.55 0 1,0 -3.1,0M210.7,270.1m-1.55,0a1.55,1.55 0 1,0 3.1,0a1.55,1.55 0 1,0 -3.1,0M210.7,272.9m-1.55,0a1.55,1.55 0 1,0 3.1,0a1.55,1.55 0 1,0 -3.1,0M210.7,275.6m-1.55,0a1.55,1.55 0 1,0 3.1,0a1.55,1.55 0 1,0 -3.1,0M220.2,224.3m-1.55,0a1.55,1.55 0 1,0 3.1,0a1.55,1.55 0 1,0 -3.1,0M220.2,241.7m-1.55,0a1.55,1.55 0 1,0 3.1,0a1.55,1.55 0 1,0 -3.1,0M220.2,255.5m-1.55,0a1.55,1.55 0 1,0 3.1,0a1.55,1.55 0 1,0 -3.1,0M220.2,258.2m-1.55,0a1.55,1.55 0 1,0 3.1,0a1.55,1.55 0 1,0 -3.1,0M220.2,261.0m-1.55,0a1.55,1.55 0 1,0 3.1,0a1.55,1.55 0 1,0 -3.1,0M220.2,273.8m-1.55,0a1.55,1.55 0 1,0 3.1,0a1.55,1.55 0 1,0 -3.1,0M220.2,279.3m-1.55,0a1.55,1.55 0 1,0 3.1,0a1.55,1.55 0 1,0 -3.1,0M220.2,280.6m-1.55,0a1.55,1.55 0 1,0 3.1,0a1.55,1.55 0 1,0 -3.1,0M229.6,228.9m-1.55,0a1.55,1.55 0 1,0 3.1,0a1.55,1.55 0 1,0 -3.1,0M229.6,231.3m-1.55,0a1.55,1.55 0 1,0 3.1,0a1.55,1.55 0 1,0 -3.1,0M229.6,233.8m-1.55,0a1.55,1.55 0 1,0 3.1,0a1.55,1.55 0 1,0 -3.1,0M229.6,236.2m-1.55,0a1.55,1.55 0 1,0 3.1,0a1.55,1.55 0 1,0 -3.1,0M229.6,254.5m-1.55,0a1.55,1.55 0 1,0 3.1,0a1.55,1.55 0 1,0 -3.1,0M229.6,257.3m-1.55,0a1.55,1.55 0 1,0 3.1,0a1.55,1.55 0 1,0 -3.1,0M229.6,260.1m-1.55,0a1.55,1.55 0 1,0 3.1,0a1.55,1.55 0 1,0 -3.1,0M229.6,262.8m-1.55,0a1.55,1.55 0 1,0 3.1,0a1.55,1.55 0 1,0 -3.1,0M229.6,265.6m-1.55,0a1.55,1.55 0 1,0 3.1,0a1.55,1.55 0 1,0 -3.1,0M239.1,209.6m-1.55,0a1.55,1.55 0 1,0 3.1,0a1.55,1.55 0 1,0 -3.1,0M239.1,216.9m-1.55,0a1.55,1.55 0 1,0 3.1,0a1.55,1.55 0 1,0 -3.1,0M239.1,225.2m-1.55,0a1.55,1.55 0 1,0 3.1,0a1.55,1.55 0 1,0 -3.1,0M239.1,227.9m-1.55,0a1.55,1.55 0 1,0 3.1,0a1.55,1.55 0 1,0 -3.1,0M239.1,230.7m-1.55,0a1.55,1.55 0 1,0 3.1,0a1.55,1.55 0 1,0 -3.1,0M239.1,233.4m-1.55,0a1.55,1.55 0 1,0 3.1,0a1.55,1.55 0 1,0 -3.1,0M239.1,236.2m-1.55,0a1.55,1.55 0 1,0 3.1,0a1.55,1.55 0 1,0 -3.1,0M239.1,238.9m-1.55,0a1.55,1.55 0 1,0 3.1,0a1.55,1.55 0 1,0 -3.1,0M239.1,244.4m-1.55,0a1.55,1.55 0 1,0 3.1,0a1.55,1.55 0 1,0 -3.1,0M239.1,247.2m-1.55,0a1.55,1.55 0 1,0 3.1,0a1.55,1.55 0 1,0 -3.1,0M239.1,250.0m-1.55,0a1.55,1.55 0 1,0 3.1,0a1.55,1.55 0 1,0 -3.1,0M239.1,258.2m-1.55,0a1.55,1.55 0 1,0 3.1,0a1.55,1.55 0 1,0 -3.1,0M239.1,260.0m-1.55,0a1.55,1.55 0 1,0 3.1,0a1.55,1.55 0 1,0 -3.1,0M248.5,211.0m-1.55,0a1.55,1.55 0 1,0 3.1,0a1.55,1.55 0 1,0 -3.1,0M248.5,227.0m-1.55,0a1.55,1.55 0 1,0 3.1,0a1.55,1.55 0 1,0 -3.1,0M248.5,232.2m-1.55,0a1.55,1.55 0 1,0 3.1,0a1.55,1.55 0 1,0 -3.1,0M248.5,240.8m-1.55,0a1.55,1.55 0 1,0 3.1,0a1.55,1.55 0 1,0 -3.1,0M248.5,243.7m-1.55,0a1.55,1.55 0 1,0 3.1,0a1.55,1.55 0 1,0 -3.1,0M248.5,246.6m-1.55,0a1.55,1.55 0 1,0 3.1,0a1.55,1.55 0 1,0 -3.1,0M248.5,249.5m-1.55,0a1.55,1.55 0 1,0 3.1,0a1.55,1.55 0 1,0 -3.1,0M248.5,252.4m-1.55,0a1.55,1.55 0 1,0 3.1,0a1.55,1.55 0 1,0 -3.1,0M248.5,255.3m-1.55,0a1.55,1.55 0 1,0 3.1,0a1.55,1.55 0 1,0 -3.1,0M248.5,258.2m-1.55,0a1.55,1.55 0 1,0 3.1,0a1.55,1.55 0 1,0 -3.1,0M248.5,262.8m-1.55,0a1.55,1.55 0 1,0 3.1,0a1.55,1.55 0 1,0 -3.1,0M248.5,265.2m-1.55,0a1.55,1.55 0 1,0 3.1,0a1.55,1.55 0 1,0 -3.1,0M248.5,267.7m-1.55,0a1.55,1.55 0 1,0 3.1,0a1.55,1.55 0 1,0 -3.1,0M248.5,270.1m-1.55,0a1.55,1.55 0 1,0 3.1,0a1.55,1.55 0 1,0 -3.1,0M257.9,203.8m-1.55,0a1.55,1.55 0 1,0 3.1,0a1.55,1.55 0 1,0 -3.1,0M257.9,213.3m-1.55,0a1.55,1.55 0 1,0 3.1,0a1.55,1.55 0 1,0 -3.1,0M257.9,229.8m-1.55,0a1.55,1.55 0 1,0 3.1,0a1.55,1.55 0 1,0 -3.1,0M257.9,232.4m-1.55,0a1.55,1.55 0 1,0 3.1,0a1.55,1.55 0 1,0 -3.1,0M257.9,235.0m-1.55,0a1.55,1.55 0 1,0 3.1,0a1.55,1.55 0 1,0 -3.1,0M257.9,237.6m-1.55,0a1.55,1.55 0 1,0 3.1,0a1.55,1.55 0 1,0 -3.1,0M257.9,240.2m-1.55,0a1.55,1.55 0 1,0 3.1,0a1.55,1.55 0 1,0 -3.1,0M257.9,242.8m-1.55,0a1.55,1.55 0 1,0 3.1,0a1.55,1.55 0 1,0 -3.1,0M257.9,245.4m-1.55,0a1.55,1.55 0 1,0 3.1,0a1.55,1.55 0 1,0 -3.1,0M257.9,248.1m-1.55,0a1.55,1.55 0 1,0 3.1,0a1.55,1.55 0 1,0 -3.1,0M257.9,250.7m-1.55,0a1.55,1.55 0 1,0 3.1,0a1.55,1.55 0 1,0 -3.1,0M257.9,253.3m-1.55,0a1.55,1.55 0 1,0 3.1,0a1.55,1.55 0 1,0 -3.1,0M257.9,255.9m-1.55,0a1.55,1.55 0 1,0 3.1,0a1.55,1.55 0 1,0 -3.1,0M257.9,258.5m-1.55,0a1.55,1.55 0 1,0 3.1,0a1.55,1.55 0 1,0 -3.1,0M257.9,261.1m-1.55,0a1.55,1.55 0 1,0 3.1,0a1.55,1.55 0 1,0 -3.1,0M257.9,263.7m-1.55,0a1.55,1.55 0 1,0 3.1,0a1.55,1.55 0 1,0 -3.1,0M276.9,213.3m-1.55,0a1.55,1.55 0 1,0 3.1,0a1.55,1.55 0 1,0 -3.1,0M276.9,221.9m-1.55,0a1.55,1.55 0 1,0 3.1,0a1.55,1.55 0 1,0 -3.1,0M276.9,228.9m-1.55,0a1.55,1.55 0 1,0 3.1,0a1.55,1.55 0 1,0 -3.1,0M276.9,235.3m-1.55,0a1.55,1.55 0 1,0 3.1,0a1.55,1.55 0 1,0 -3.1,0" fill="#0a0a0a"/>
<line x1="211" y1="254.5" x2="277.1" y2="233.8" stroke="#111" stroke-width="1.35"/>
<path d="M382.25,23.25 V123.25 H481.00" fill="none" stroke="#111" stroke-width="1.6"/>
<line x1="378.65" y1="123.25" x2="382.25" y2="123.25" stroke="#111" stroke-width="1.5"/>
<text transform="translate(378.65,125.85) scale(0.88,1)" text-anchor="end" font-family='"Liberation Sans", sans-serif' font-weight="bold" font-size="7.8" fill="#222" stroke="#222" stroke-width="0.35">0</text>
<line x1="378.65" y1="89.92" x2="382.25" y2="89.92" stroke="#111" stroke-width="1.5"/>
<text transform="translate(378.65,92.52) scale(0.88,1)" text-anchor="end" font-family='"Liberation Sans", sans-serif' font-weight="bold" font-size="7.8" fill="#222" stroke="#222" stroke-width="0.35">1</text>
<line x1="378.65" y1="56.58" x2="382.25" y2="56.58" stroke="#111" stroke-width="1.5"/>
<text transform="translate(378.65,59.18) scale(0.88,1)" text-anchor="end" font-family='"Liberation Sans", sans-serif' font-weight="bold" font-size="7.8" fill="#222" stroke="#222" stroke-width="0.35">2</text>
<line x1="378.65" y1="23.25" x2="382.25" y2="23.25" stroke="#111" stroke-width="1.5"/>
<text transform="translate(378.65,25.85) scale(0.88,1)" text-anchor="end" font-family='"Liberation Sans", sans-serif' font-weight="bold" font-size="7.8" fill="#222" stroke="#222" stroke-width="0.35">3</text>
<line x1="382.25" y1="123.25" x2="382.25" y2="126.45" stroke="#111" stroke-width="1.5"/>
<text transform="translate(382.25,134.15) scale(0.8,1)" text-anchor="middle" font-family='"Liberation Sans", sans-serif' font-weight="bold" font-size="7.8" fill="#222" stroke="#222" stroke-width="0.35">0</text>
<line x1="402.00" y1="123.25" x2="402.00" y2="126.45" stroke="#111" stroke-width="1.5"/>
<text transform="translate(402.00,134.15) scale(0.8,1)" text-anchor="middle" font-family='"Liberation Sans", sans-serif' font-weight="bold" font-size="7.8" fill="#222" stroke="#222" stroke-width="0.35">2</text>
<line x1="421.75" y1="123.25" x2="421.75" y2="126.45" stroke="#111" stroke-width="1.5"/>
<text transform="translate(421.75,134.15) scale(0.8,1)" text-anchor="middle" font-family='"Liberation Sans", sans-serif' font-weight="bold" font-size="7.8" fill="#222" stroke="#222" stroke-width="0.35">4</text>
<line x1="441.50" y1="123.25" x2="441.50" y2="126.45" stroke="#111" stroke-width="1.5"/>
<text transform="translate(441.50,134.15) scale(0.8,1)" text-anchor="middle" font-family='"Liberation Sans", sans-serif' font-weight="bold" font-size="7.8" fill="#222" stroke="#222" stroke-width="0.35">6</text>
<line x1="461.25" y1="123.25" x2="461.25" y2="126.45" stroke="#111" stroke-width="1.5"/>
<text transform="translate(461.25,134.15) scale(0.8,1)" text-anchor="middle" font-family='"Liberation Sans", sans-serif' font-weight="bold" font-size="7.8" fill="#222" stroke="#222" stroke-width="0.35">8</text>
<line x1="481.00" y1="123.25" x2="481.00" y2="126.45" stroke="#111" stroke-width="1.5"/>
<text transform="translate(481.00,134.15) scale(0.8,1)" text-anchor="middle" font-family='"Liberation Sans", sans-serif' font-weight="bold" font-size="7.8" fill="#222" stroke="#222" stroke-width="0.35">10</text>
<text x="394.00" y="12.10" font-family='"Liberation Serif", serif' font-weight="bold" font-size="10" fill="#111" textLength="66.5" lengthAdjust="spacingAndGlyphs">S1 IgA  (serum)</text>
<text x="381.00" y="145.50" font-family='"Liberation Serif", serif' font-weight="bold" font-size="9" fill="#222" textLength="99.50" lengthAdjust="spacingAndGlyphs">Neutralizing antibody titers</text>
<text transform="translate(367.00,72.20) rotate(-90)" text-anchor="middle" font-family='"Liberation Serif", serif' font-weight="bold" font-size="9.8" fill="#222">OD<tspan font-size="7.06" dy="2.16">450</tspan></text>
<text x="389.25" y="30.80" font-family='"Liberation Serif", serif' font-size="6.8" fill="#444">R<tspan font-size="4.5" dy="-2.5">2</tspan><tspan dy="2.5">=0.7027</tspan></text>
<text x="389.25" y="38.20" font-family='"Liberation Serif", serif' font-size="6.8" fill="#444">P&lt;0.0001</text>
<path d="M392.1,100.6m-1.55,0a1.55,1.55 0 1,0 3.1,0a1.55,1.55 0 1,0 -3.1,0M392.1,102.5m-1.55,0a1.55,1.55 0 1,0 3.1,0a1.55,1.55 0 1,0 -3.1,0M392.1,109.7m-1.55,0a1.55,1.55 0 1,0 3.1,0a1.55,1.55 0 1,0 -3.1,0M392.1,112.3m-1.55,0a1.55,1.55 0 1,0 3.1,0a1.55,1.55 0 1,0 -3.1,0M392.1,114.9m-1.55,0a1.55,1.55 0 1,0 3.1,0a1.55,1.55 0 1,0 -3.1,0M392.1,117.5m-1.55,0a1.55,1.55 0 1,0 3.1,0a1.55,1.55 0 1,0 -3.1,0M402.0,64.8m-1.55,0a1.55,1.55 0 1,0 3.1,0a1.55,1.55 0 1,0 -3.1,0M402.0,83.1m-1.55,0a1.55,1.55 0 1,0 3.1,0a1.55,1.55 0 1,0 -3.1,0M402.0,89.5m-1.55,0a1.55,1.55 0 1,0 3.1,0a1.55,1.55 0 1,0 -3.1,0M402.0,92.6m-1.55,0a1.55,1.55 0 1,0 3.1,0a1.55,1.55 0 1,0 -3.1,0M402.0,95.6m-1.55,0a1.55,1.55 0 1,0 3.1,0a1.55,1.55 0 1,0 -3.1,0M402.0,98.7m-1.55,0a1.55,1.55 0 1,0 3.1,0a1.55,1.55 0 1,0 -3.1,0M402.0,105.1m-1.55,0a1.55,1.55 0 1,0 3.1,0a1.55,1.55 0 1,0 -3.1,0M411.9,76.7m-1.55,0a1.55,1.55 0 1,0 3.1,0a1.55,1.55 0 1,0 -3.1,0M411.9,79.1m-1.55,0a1.55,1.55 0 1,0 3.1,0a1.55,1.55 0 1,0 -3.1,0M411.9,81.6m-1.55,0a1.55,1.55 0 1,0 3.1,0a1.55,1.55 0 1,0 -3.1,0M411.9,84.0m-1.55,0a1.55,1.55 0 1,0 3.1,0a1.55,1.55 0 1,0 -3.1,0M411.9,102.4m-1.55,0a1.55,1.55 0 1,0 3.1,0a1.55,1.55 0 1,0 -3.1,0M421.8,60.2m-1.55,0a1.55,1.55 0 1,0 3.1,0a1.55,1.55 0 1,0 -3.1,0M421.8,62.8m-1.55,0a1.55,1.55 0 1,0 3.1,0a1.55,1.55 0 1,0 -3.1,0M421.8,65.4m-1.55,0a1.55,1.55 0 1,0 3.1,0a1.55,1.55 0 1,0 -3.1,0M421.8,67.9m-1.55,0a1.55,1.55 0 1,0 3.1,0a1.55,1.55 0 1,0 -3.1,0M421.8,70.5m-1.55,0a1.55,1.55 0 1,0 3.1,0a1.55,1.55 0 1,0 -3.1,0M421.8,73.1m-1.55,0a1.55,1.55 0 1,0 3.1,0a1.55,1.55 0 1,0 -3.1,0M421.8,75.7m-1.55,0a1.55,1.55 0 1,0 3.1,0a1.55,1.55 0 1,0 -3.1,0M421.8,78.3m-1.55,0a1.55,1.55 0 1,0 3.1,0a1.55,1.55 0 1,0 -3.1,0M421.8,80.9m-1.55,0a1.55,1.55 0 1,0 3.1,0a1.55,1.55 0 1,0 -3.1,0M421.8,83.4m-1.55,0a1.55,1.55 0 1,0 3.1,0a1.55,1.55 0 1,0 -3.1,0M421.8,86.0m-1.55,0a1.55,1.55 0 1,0 3.1,0a1.55,1.55 0 1,0 -3.1,0M421.8,88.6m-1.55,0a1.55,1.55 0 1,0 3.1,0a1.55,1.55 0 1,0 -3.1,0M421.8,93.6m-1.55,0a1.55,1.55 0 1,0 3.1,0a1.55,1.55 0 1,0 -3.1,0M431.6,45.5m-1.55,0a1.55,1.55 0 1,0 3.1,0a1.55,1.55 0 1,0 -3.1,0M431.6,52.8m-1.55,0a1.55,1.55 0 1,0 3.1,0a1.55,1.55 0 1,0 -3.1,0M431.6,55.7m-1.55,0a1.55,1.55 0 1,0 3.1,0a1.55,1.55 0 1,0 -3.1,0M431.6,58.6m-1.55,0a1.55,1.55 0 1,0 3.1,0a1.55,1.55 0 1,0 -3.1,0M431.6,61.5m-1.55,0a1.55,1.55 0 1,0 3.1,0a1.55,1.55 0 1,0 -3.1,0M431.6,64.3m-1.55,0a1.55,1.55 0 1,0 3.1,0a1.55,1.55 0 1,0 -3.1,0M431.6,67.2m-1.55,0a1.55,1.55 0 1,0 3.1,0a1.55,1.55 0 1,0 -3.1,0M431.6,70.1m-1.55,0a1.55,1.55 0 1,0 3.1,0a1.55,1.55 0 1,0 -3.1,0M431.6,73.0m-1.55,0a1.55,1.55 0 1,0 3.1,0a1.55,1.55 0 1,0 -3.1,0M431.6,79.4m-1.55,0a1.55,1.55 0 1,0 3.1,0a1.55,1.55 0 1,0 -3.1,0M431.6,85.9m-1.55,0a1.55,1.55 0 1,0 3.1,0a1.55,1.55 0 1,0 -3.1,0M431.6,89.5m-1.55,0a1.55,1.55 0 1,0 3.1,0a1.55,1.55 0 1,0 -3.1,0M431.6,92.2m-1.55,0a1.55,1.55 0 1,0 3.1,0a1.55,1.55 0 1,0 -3.1,0M431.6,95.0m-1.55,0a1.55,1.55 0 1,0 3.1,0a1.55,1.55 0 1,0 -3.1,0M441.5,45.5m-1.55,0a1.55,1.55 0 1,0 3.1,0a1.55,1.55 0 1,0 -3.1,0M441.5,52.8m-1.55,0a1.55,1.55 0 1,0 3.1,0a1.55,1.55 0 1,0 -3.1,0M441.5,55.9m-1.55,0a1.55,1.55 0 1,0 3.1,0a1.55,1.55 0 1,0 -3.1,0M441.5,58.9m-1.55,0a1.55,1.55 0 1,0 3.1,0a1.55,1.55 0 1,0 -3.1,0M441.5,62.0m-1.55,0a1.55,1.55 0 1,0 3.1,0a1.55,1.55 0 1,0 -3.1,0M441.5,74.9m-1.55,0a1.55,1.55 0 1,0 3.1,0a1.55,1.55 0 1,0 -3.1,0M441.5,83.1m-1.55,0a1.55,1.55 0 1,0 3.1,0a1.55,1.55 0 1,0 -3.1,0M441.5,87.3m-1.55,0a1.55,1.55 0 1,0 3.1,0a1.55,1.55 0 1,0 -3.1,0M441.5,95.0m-1.55,0a1.55,1.55 0 1,0 3.1,0a1.55,1.55 0 1,0 -3.1,0M461.2,40.0m-1.55,0a1.55,1.55 0 1,0 3.1,0a1.55,1.55 0 1,0 -3.1,0M461.2,42.9m-1.55,0a1.55,1.55 0 1,0 3.1,0a1.55,1.55 0 1,0 -3.1,0M461.2,45.9m-1.55,0a1.55,1.55 0 1,0 3.1,0a1.55,1.55 0 1,0 -3.1,0M461.2,48.8m-1.55,0a1.55,1.55 0 1,0 3.1,0a1.55,1.55 0 1,0 -3.1,0M461.2,51.8m-1.55,0a1.55,1.55 0 1,0 3.1,0a1.55,1.55 0 1,0 -3.1,0M461.2,54.7m-1.55,0a1.55,1.55 0 1,0 3.1,0a1.55,1.55 0 1,0 -3.1,0" fill="#0a0a0a"/>
<line x1="392.1" y1="105.1" x2="460" y2="43.3" stroke="#111" stroke-width="1.35"/>
<path d="M544.00,22.50 V118.50 H638.00" fill="none" stroke="#111" stroke-width="1.6"/>
<line x1="540.40" y1="118.50" x2="544.00" y2="118.50" stroke="#111" stroke-width="1.5"/>
<text transform="translate(540.40,121.10) scale(0.88,1)" text-anchor="end" font-family='"Liberation Sans", sans-serif' font-weight="bold" font-size="7.2" fill="#222" stroke="#222" stroke-width="0.35">0.0</text>
<line x1="540.40" y1="86.50" x2="544.00" y2="86.50" stroke="#111" stroke-width="1.5"/>
<text transform="translate(540.40,89.10) scale(0.88,1)" text-anchor="end" font-family='"Liberation Sans", sans-serif' font-weight="bold" font-size="7.2" fill="#222" stroke="#222" stroke-width="0.35">0.5</text>
<line x1="540.40" y1="54.50" x2="544.00" y2="54.50" stroke="#111" stroke-width="1.5"/>
<text transform="translate(540.40,57.10) scale(0.88,1)" text-anchor="end" font-family='"Liberation Sans", sans-serif' font-weight="bold" font-size="7.2" fill="#222" stroke="#222" stroke-width="0.35">1.0</text>
<line x1="540.40" y1="22.50" x2="544.00" y2="22.50" stroke="#111" stroke-width="1.5"/>
<text transform="translate(540.40,25.10) scale(0.88,1)" text-anchor="end" font-family='"Liberation Sans", sans-serif' font-weight="bold" font-size="7.2" fill="#222" stroke="#222" stroke-width="0.35">1.5</text>
<line x1="543.75" y1="118.50" x2="543.75" y2="121.70" stroke="#111" stroke-width="1.5"/>
<text transform="translate(543.75,128.70) scale(0.8,1)" text-anchor="middle" font-family='"Liberation Sans", sans-serif' font-weight="bold" font-size="7.2" fill="#222" stroke="#222" stroke-width="0.35">0</text>
<line x1="562.60" y1="118.50" x2="562.60" y2="121.70" stroke="#111" stroke-width="1.5"/>
<text transform="translate(562.60,128.70) scale(0.8,1)" text-anchor="middle" font-family='"Liberation Sans", sans-serif' font-weight="bold" font-size="7.2" fill="#222" stroke="#222" stroke-width="0.35">2</text>
<line x1="581.45" y1="118.50" x2="581.45" y2="121.70" stroke="#111" stroke-width="1.5"/>
<text transform="translate(581.45,128.70) scale(0.8,1)" text-anchor="middle" font-family='"Liberation Sans", sans-serif' font-weight="bold" font-size="7.2" fill="#222" stroke="#222" stroke-width="0.35">4</text>
<line x1="600.30" y1="118.50" x2="600.30" y2="121.70" stroke="#111" stroke-width="1.5"/>
<text transform="translate(600.30,128.70) scale(0.8,1)" text-anchor="middle" font-family='"Liberation Sans", sans-serif' font-weight="bold" font-size="7.2" fill="#222" stroke="#222" stroke-width="0.35">6</text>
<line x1="619.15" y1="118.50" x2="619.15" y2="121.70" stroke="#111" stroke-width="1.5"/>
<text transform="translate(619.15,128.70) scale(0.8,1)" text-anchor="middle" font-family='"Liberation Sans", sans-serif' font-weight="bold" font-size="7.2" fill="#222" stroke="#222" stroke-width="0.35">8</text>
<line x1="638.00" y1="118.50" x2="638.00" y2="121.70" stroke="#111" stroke-width="1.5"/>
<text transform="translate(638.00,128.70) scale(0.8,1)" text-anchor="middle" font-family='"Liberation Sans", sans-serif' font-weight="bold" font-size="7.2" fill="#222" stroke="#222" stroke-width="0.35">10</text>
<text x="557.50" y="12.00" font-family='"Liberation Serif", serif' font-weight="bold" font-size="10" fill="#111" textLength="60.5" lengthAdjust="spacingAndGlyphs">E IgA (serum)</text>
<text x="542.50" y="140.50" font-family='"Liberation Serif", serif' font-weight="bold" font-size="9" fill="#222" textLength="95.50" lengthAdjust="spacingAndGlyphs">Neutralizing antibody titers</text>
<text transform="translate(524.00,72.80) rotate(-90)" text-anchor="middle" font-family='"Liberation Serif", serif' font-weight="bold" font-size="7.2" fill="#222">OD<tspan font-size="5.18" dy="1.58">450</tspan></text>
<text x="553.00" y="33.50" font-family='"Liberation Serif", serif' font-size="6.8" fill="#444">R<tspan font-size="4.5" dy="-2.5">2</tspan><tspan dy="2.5">=0.123</tspan></text>
<text x="553.00" y="40.90" font-family='"Liberation Serif", serif' font-size="6.8" fill="#444">P=0.0002</text>
<path d="M553.2,62.9m-1.55,0a1.55,1.55 0 1,0 3.1,0a1.55,1.55 0 1,0 -3.1,0M553.2,65.6m-1.55,0a1.55,1.55 0 1,0 3.1,0a1.55,1.55 0 1,0 -3.1,0M553.2,68.3m-1.55,0a1.55,1.55 0 1,0 3.1,0a1.55,1.55 0 1,0 -3.1,0M553.2,71.0m-1.55,0a1.55,1.55 0 1,0 3.1,0a1.55,1.55 0 1,0 -3.1,0M553.2,73.7m-1.55,0a1.55,1.55 0 1,0 3.1,0a1.55,1.55 0 1,0 -3.1,0M553.2,76.4m-1.55,0a1.55,1.55 0 1,0 3.1,0a1.55,1.55 0 1,0 -3.1,0M553.2,79.1m-1.55,0a1.55,1.55 0 1,0 3.1,0a1.55,1.55 0 1,0 -3.1,0M553.2,81.8m-1.55,0a1.55,1.55 0 1,0 3.1,0a1.55,1.55 0 1,0 -3.1,0M553.2,84.4m-1.55,0a1.55,1.55 0 1,0 3.1,0a1.55,1.55 0 1,0 -3.1,0M553.2,87.1m-1.55,0a1.55,1.55 0 1,0 3.1,0a1.55,1.55 0 1,0 -3.1,0M553.2,89.8m-1.55,0a1.55,1.55 0 1,0 3.1,0a1.55,1.55 0 1,0 -3.1,0M553.2,92.5m-1.55,0a1.55,1.55 0 1,0 3.1,0a1.55,1.55 0 1,0 -3.1,0M553.2,95.2m-1.55,0a1.55,1.55 0 1,0 3.1,0a1.55,1.55 0 1,0 -3.1,0M553.2,97.9m-1.55,0a1.55,1.55 0 1,0 3.1,0a1.55,1.55 0 1,0 -3.1,0M553.2,100.6m-1.55,0a1.55,1.55 0 1,0 3.1,0a1.55,1.55 0 1,0 -3.1,0M553.2,107.0m-1.55,0a1.55,1.55 0 1,0 3.1,0a1.55,1.55 0 1,0 -3.1,0M553.2,108.8m-1.55,0a1.55,1.55 0 1,0 3.1,0a1.55,1.55 0 1,0 -3.1,0M562.6,62.9m-1.55,0a1.55,1.55 0 1,0 3.1,0a1.55,1.55 0 1,0 -3.1,0M562.6,69.0m-1.55,0a1.55,1.55 0 1,0 3.1,0a1.55,1.55 0 1,0 -3.1,0M562.6,76.7m-1.55,0a1.55,1.55 0 1,0 3.1,0a1.55,1.55 0 1,0 -3.1,0M562.6,79.1m-1.55,0a1.55,1.55 0 1,0 3.1,0a1.55,1.55 0 1,0 -3.1,0M562.6,81.6m-1.55,0a1.55,1.55 0 1,0 3.1,0a1.55,1.55 0 1,0 -3.1,0M562.6,84.0m-1.55,0a1.55,1.55 0 1,0 3.1,0a1.55,1.55 0 1,0 -3.1,0M562.6,95.0m-1.55,0a1.55,1.55 0 1,0 3.1,0a1.55,1.55 0 1,0 -3.1,0M562.6,98.2m-1.55,0a1.55,1.55 0 1,0 3.1,0a1.55,1.55 0 1,0 -3.1,0M562.6,101.5m-1.55,0a1.55,1.55 0 1,0 3.1,0a1.55,1.55 0 1,0 -3.1,0M572.0,71.2m-1.55,0a1.55,1.55 0 1,0 3.1,0a1.55,1.55 0 1,0 -3.1,0M572.0,79.4m-1.55,0a1.55,1.55 0 1,0 3.1,0a1.55,1.55 0 1,0 -3.1,0M572.0,81.3m-1.55,0a1.55,1.55 0 1,0 3.1,0a1.55,1.55 0 1,0 -3.1,0M581.5,51.0m-1.55,0a1.55,1.55 0 1,0 3.1,0a1.55,1.55 0 1,0 -3.1,0M581.5,54.0m-1.55,0a1.55,1.55 0 1,0 3.1,0a1.55,1.55 0 1,0 -3.1,0M581.5,57.0m-1.55,0a1.55,1.55 0 1,0 3.1,0a1.55,1.55 0 1,0 -3.1,0M581.5,59.9m-1.55,0a1.55,1.55 0 1,0 3.1,0a1.55,1.55 0 1,0 -3.1,0M581.5,62.9m-1.55,0a1.55,1.55 0 1,0 3.1,0a1.55,1.55 0 1,0 -3.1,0M581.5,67.5m-1.55,0a1.55,1.55 0 1,0 3.1,0a1.55,1.55 0 1,0 -3.1,0M581.5,70.6m-1.55,0a1.55,1.55 0 1,0 3.1,0a1.55,1.55 0 1,0 -3.1,0M581.5,73.6m-1.55,0a1.55,1.55 0 1,0 3.1,0a1.55,1.55 0 1,0 -3.1,0M581.5,76.7m-1.55,0a1.55,1.55 0 1,0 3.1,0a1.55,1.55 0 1,0 -3.1,0M581.5,83.1m-1.55,0a1.55,1.55 0 1,0 3.1,0a1.55,1.55 0 1,0 -3.1,0M581.5,86.3m-1.55,0a1.55,1.55 0 1,0 3.1,0a1.55,1.55 0 1,0 -3.1,0M581.5,89.5m-1.55,0a1.55,1.55 0 1,0 3.1,0a1.55,1.55 0 1,0 -3.1,0M581.5,93.2m-1.55,0a1.55,1.55 0 1,0 3.1,0a1.55,1.55 0 1,0 -3.1,0M581.5,103.3m-1.55,0a1.55,1.55 0 1,0 3.1,0a1.55,1.55 0 1,0 -3.1,0M590.9,65.7m-1.55,0a1.55,1.55 0 1,0 3.1,0a1.55,1.55 0 1,0 -3.1,0M590.9,68.5m-1.55,0a1.55,1.55 0 1,0 3.1,0a1.55,1.55 0 1,0 -3.1,0M590.9,71.2m-1.55,0a1.55,1.55 0 1,0 3.1,0a1.55,1.55 0 1,0 -3.1,0M590.9,74.0m-1.55,0a1.55,1.55 0 1,0 3.1,0a1.55,1.55 0 1,0 -3.1,0M590.9,76.7m-1.55,0a1.55,1.55 0 1,0 3.1,0a1.55,1.55 0 1,0 -3.1,0M590.9,79.5m-1.55,0a1.55,1.55 0 1,0 3.1,0a1.55,1.55 0 1,0 -3.1,0M590.9,82.2m-1.55,0a1.55,1.55 0 1,0 3.1,0a1.55,1.55 0 1,0 -3.1,0M590.9,85.0m-1.55,0a1.55,1.55 0 1,0 3.1,0a1.55,1.55 0 1,0 -3.1,0M590.9,87.7m-1.55,0a1.55,1.55 0 1,0 3.1,0a1.55,1.55 0 1,0 -3.1,0M590.9,90.5m-1.55,0a1.55,1.55 0 1,0 3.1,0a1.55,1.55 0 1,0 -3.1,0M590.9,93.2m-1.55,0a1.55,1.55 0 1,0 3.1,0a1.55,1.55 0 1,0 -3.1,0M590.9,96.0m-1.55,0a1.55,1.55 0 1,0 3.1,0a1.55,1.55 0 1,0 -3.1,0M600.3,60.2m-1.55,0a1.55,1.55 0 1,0 3.1,0a1.55,1.55 0 1,0 -3.1,0M600.3,68.4m-1.55,0a1.55,1.55 0 1,0 3.1,0a1.55,1.55 0 1,0 -3.1,0M600.3,71.0m-1.55,0a1.55,1.55 0 1,0 3.1,0a1.55,1.55 0 1,0 -3.1,0M600.3,73.7m-1.55,0a1.55,1.55 0 1,0 3.1,0a1.55,1.55 0 1,0 -3.1,0M600.3,76.3m-1.55,0a1.55,1.55 0 1,0 3.1,0a1.55,1.55 0 1,0 -3.1,0M600.3,78.9m-1.55,0a1.55,1.55 0 1,0 3.1,0a1.55,1.55 0 1,0 -3.1,0M600.3,81.5m-1.55,0a1.55,1.55 0 1,0 3.1,0a1.55,1.55 0 1,0 -3.1,0M600.3,84.2m-1.55,0a1.55,1.55 0 1,0 3.1,0a1.55,1.55 0 1,0 -3.1,0M600.3,86.8m-1.55,0a1.55,1.55 0 1,0 3.1,0a1.55,1.55 0 1,0 -3.1,0M600.3,95.0m-1.55,0a1.55,1.55 0 1,0 3.1,0a1.55,1.55 0 1,0 -3.1,0M619.1,42.8m-1.55,0a1.55,1.55 0 1,0 3.1,0a1.55,1.55 0 1,0 -3.1,0M619.1,45.5m-1.55,0a1.55,1.55 0 1,0 3.1,0a1.55,1.55 0 1,0 -3.1,0M619.1,49.2m-1.55,0a1.55,1.55 0 1,0 3.1,0a1.55,1.55 0 1,0 -3.1,0M619.1,53.8m-1.55,0a1.55,1.55 0 1,0 3.1,0a1.55,1.55 0 1,0 -3.1,0M619.1,72.1m-1.55,0a1.55,1.55 0 1,0 3.1,0a1.55,1.55 0 1,0 -3.1,0M619.1,74.9m-1.55,0a1.55,1.55 0 1,0 3.1,0a1.55,1.55 0 1,0 -3.1,0" fill="#0a0a0a"/>
<line x1="553.2" y1="85.5" x2="619.2" y2="70.3" stroke="#111" stroke-width="1.35"/>
<path d="M387.00,188.75 V283.75 H481.25" fill="none" stroke="#111" stroke-width="1.6"/>
<line x1="383.40" y1="283.75" x2="387.00" y2="283.75" stroke="#111" stroke-width="1.5"/>
<text transform="translate(383.40,286.35) scale(0.88,1)" text-anchor="end" font-family='"Liberation Sans", sans-serif' font-weight="bold" font-size="7.2" fill="#222" stroke="#222" stroke-width="0.35">0.0</text>
<line x1="383.40" y1="252.08" x2="387.00" y2="252.08" stroke="#111" stroke-width="1.5"/>
<text transform="translate(383.40,254.68) scale(0.88,1)" text-anchor="end" font-family='"Liberation Sans", sans-serif' font-weight="bold" font-size="7.2" fill="#222" stroke="#222" stroke-width="0.35">0.5</text>
<line x1="383.40" y1="220.42" x2="387.00" y2="220.42" stroke="#111" stroke-width="1.5"/>
<text transform="translate(383.40,223.02) scale(0.88,1)" text-anchor="end" font-family='"Liberation Sans", sans-serif' font-weight="bold" font-size="7.2" fill="#222" stroke="#222" stroke-width="0.35">1.0</text>
<line x1="383.40" y1="188.75" x2="387.00" y2="188.75" stroke="#111" stroke-width="1.5"/>
<text transform="translate(383.40,191.35) scale(0.88,1)" text-anchor="end" font-family='"Liberation Sans", sans-serif' font-weight="bold" font-size="7.2" fill="#222" stroke="#222" stroke-width="0.35">1.5</text>
<line x1="386.75" y1="283.75" x2="386.75" y2="286.95" stroke="#111" stroke-width="1.5"/>
<text transform="translate(386.75,293.95) scale(0.8,1)" text-anchor="middle" font-family='"Liberation Sans", sans-serif' font-weight="bold" font-size="7.2" fill="#222" stroke="#222" stroke-width="0.35">0</text>
<line x1="405.65" y1="283.75" x2="405.65" y2="286.95" stroke="#111" stroke-width="1.5"/>
<text transform="translate(405.65,293.95) scale(0.8,1)" text-anchor="middle" font-family='"Liberation Sans", sans-serif' font-weight="bold" font-size="7.2" fill="#222" stroke="#222" stroke-width="0.35">2</text>
<line x1="424.55" y1="283.75" x2="424.55" y2="286.95" stroke="#111" stroke-width="1.5"/>
<text transform="translate(424.55,293.95) scale(0.8,1)" text-anchor="middle" font-family='"Liberation Sans", sans-serif' font-weight="bold" font-size="7.2" fill="#222" stroke="#222" stroke-width="0.35">4</text>
<line x1="443.45" y1="283.75" x2="443.45" y2="286.95" stroke="#111" stroke-width="1.5"/>
<text transform="translate(443.45,293.95) scale(0.8,1)" text-anchor="middle" font-family='"Liberation Sans", sans-serif' font-weight="bold" font-size="7.2" fill="#222" stroke="#222" stroke-width="0.35">6</text>
<line x1="462.35" y1="283.75" x2="462.35" y2="286.95" stroke="#111" stroke-width="1.5"/>
<text transform="translate(462.35,293.95) scale(0.8,1)" text-anchor="middle" font-family='"Liberation Sans", sans-serif' font-weight="bold" font-size="7.2" fill="#222" stroke="#222" stroke-width="0.35">8</text>
<line x1="481.25" y1="283.75" x2="481.25" y2="286.95" stroke="#111" stroke-width="1.5"/>
<text transform="translate(481.25,293.95) scale(0.8,1)" text-anchor="middle" font-family='"Liberation Sans", sans-serif' font-weight="bold" font-size="7.2" fill="#222" stroke="#222" stroke-width="0.35">10</text>
<text x="398.50" y="177.10" font-family='"Liberation Serif", serif' font-weight="bold" font-size="10" fill="#111" textLength="63.25" lengthAdjust="spacingAndGlyphs">M IgA (serum)</text>
<text x="385.50" y="306.00" font-family='"Liberation Serif", serif' font-weight="bold" font-size="9" fill="#222" textLength="95.00" lengthAdjust="spacingAndGlyphs">Neutralizing antibody titers</text>
<text transform="translate(367.00,235.50) rotate(-90)" text-anchor="middle" font-family='"Liberation Serif", serif' font-weight="bold" font-size="9.4" fill="#222">OD<tspan font-size="6.77" dy="2.07">450</tspan></text>
<text x="395.00" y="197.50" font-family='"Liberation Serif", serif' font-size="6.8" fill="#444">R<tspan font-size="4.5" dy="-2.5">2</tspan><tspan dy="2.5">=0.2002</tspan></text>
<text x="395.00" y="204.90" font-family='"Liberation Serif", serif' font-size="6.8" fill="#444">P&lt;0.0001</text>
<path d="M396.2,241.3m-1.55,0a1.55,1.55 0 1,0 3.1,0a1.55,1.55 0 1,0 -3.1,0M396.2,247.7m-1.55,0a1.55,1.55 0 1,0 3.1,0a1.55,1.55 0 1,0 -3.1,0M396.2,255.0m-1.55,0a1.55,1.55 0 1,0 3.1,0a1.55,1.55 0 1,0 -3.1,0M396.2,257.3m-1.55,0a1.55,1.55 0 1,0 3.1,0a1.55,1.55 0 1,0 -3.1,0M396.2,259.6m-1.55,0a1.55,1.55 0 1,0 3.1,0a1.55,1.55 0 1,0 -3.1,0M396.2,263.3m-1.55,0a1.55,1.55 0 1,0 3.1,0a1.55,1.55 0 1,0 -3.1,0M396.2,267.9m-1.55,0a1.55,1.55 0 1,0 3.1,0a1.55,1.55 0 1,0 -3.1,0M396.2,270.6m-1.55,0a1.55,1.55 0 1,0 3.1,0a1.55,1.55 0 1,0 -3.1,0M396.2,274.3m-1.55,0a1.55,1.55 0 1,0 3.1,0a1.55,1.55 0 1,0 -3.1,0M405.6,254.7m-1.55,0a1.55,1.55 0 1,0 3.1,0a1.55,1.55 0 1,0 -3.1,0M405.6,259.1m-1.55,0a1.55,1.55 0 1,0 3.1,0a1.55,1.55 0 1,0 -3.1,0M405.6,263.3m-1.55,0a1.55,1.55 0 1,0 3.1,0a1.55,1.55 0 1,0 -3.1,0M405.6,271.6m-1.55,0a1.55,1.55 0 1,0 3.1,0a1.55,1.55 0 1,0 -3.1,0M405.6,273.4m-1.55,0a1.55,1.55 0 1,0 3.1,0a1.55,1.55 0 1,0 -3.1,0M415.1,242.2m-1.55,0a1.55,1.55 0 1,0 3.1,0a1.55,1.55 0 1,0 -3.1,0M415.1,254.7m-1.55,0a1.55,1.55 0 1,0 3.1,0a1.55,1.55 0 1,0 -3.1,0M415.1,267.0m-1.55,0a1.55,1.55 0 1,0 3.1,0a1.55,1.55 0 1,0 -3.1,0M415.1,269.4m-1.55,0a1.55,1.55 0 1,0 3.1,0a1.55,1.55 0 1,0 -3.1,0M424.6,221.7m-1.55,0a1.55,1.55 0 1,0 3.1,0a1.55,1.55 0 1,0 -3.1,0M424.6,230.3m-1.55,0a1.55,1.55 0 1,0 3.1,0a1.55,1.55 0 1,0 -3.1,0M424.6,233.9m-1.55,0a1.55,1.55 0 1,0 3.1,0a1.55,1.55 0 1,0 -3.1,0M424.6,243.1m-1.55,0a1.55,1.55 0 1,0 3.1,0a1.55,1.55 0 1,0 -3.1,0M424.6,245.9m-1.55,0a1.55,1.55 0 1,0 3.1,0a1.55,1.55 0 1,0 -3.1,0M424.6,251.4m-1.55,0a1.55,1.55 0 1,0 3.1,0a1.55,1.55 0 1,0 -3.1,0M424.6,254.1m-1.55,0a1.55,1.55 0 1,0 3.1,0a1.55,1.55 0 1,0 -3.1,0M424.6,256.9m-1.55,0a1.55,1.55 0 1,0 3.1,0a1.55,1.55 0 1,0 -3.1,0M424.6,259.6m-1.55,0a1.55,1.55 0 1,0 3.1,0a1.55,1.55 0 1,0 -3.1,0M424.6,262.4m-1.55,0a1.55,1.55 0 1,0 3.1,0a1.55,1.55 0 1,0 -3.1,0M424.6,265.1m-1.55,0a1.55,1.55 0 1,0 3.1,0a1.55,1.55 0 1,0 -3.1,0M434.0,202.2m-1.55,0a1.55,1.55 0 1,0 3.1,0a1.55,1.55 0 1,0 -3.1,0M434.0,221.7m-1.55,0a1.55,1.55 0 1,0 3.1,0a1.55,1.55 0 1,0 -3.1,0M434.0,225.7m-1.55,0a1.55,1.55 0 1,0 3.1,0a1.55,1.55 0 1,0 -3.1,0M434.0,229.4m-1.55,0a1.55,1.55 0 1,0 3.1,0a1.55,1.55 0 1,0 -3.1,0M434.0,231.2m-1.55,0a1.55,1.55 0 1,0 3.1,0a1.55,1.55 0 1,0 -3.1,0M434.0,239.4m-1.55,0a1.55,1.55 0 1,0 3.1,0a1.55,1.55 0 1,0 -3.1,0M434.0,243.1m-1.55,0a1.55,1.55 0 1,0 3.1,0a1.55,1.55 0 1,0 -3.1,0M434.0,251.4m-1.55,0a1.55,1.55 0 1,0 3.1,0a1.55,1.55 0 1,0 -3.1,0M434.0,254.1m-1.55,0a1.55,1.55 0 1,0 3.1,0a1.55,1.55 0 1,0 -3.1,0M434.0,256.9m-1.55,0a1.55,1.55 0 1,0 3.1,0a1.55,1.55 0 1,0 -3.1,0M434.0,259.6m-1.55,0a1.55,1.55 0 1,0 3.1,0a1.55,1.55 0 1,0 -3.1,0M434.0,262.4m-1.55,0a1.55,1.55 0 1,0 3.1,0a1.55,1.55 0 1,0 -3.1,0M434.0,265.1m-1.55,0a1.55,1.55 0 1,0 3.1,0a1.55,1.55 0 1,0 -3.1,0M434.0,267.9m-1.55,0a1.55,1.55 0 1,0 3.1,0a1.55,1.55 0 1,0 -3.1,0M434.0,270.6m-1.55,0a1.55,1.55 0 1,0 3.1,0a1.55,1.55 0 1,0 -3.1,0M443.4,195.0m-1.55,0a1.55,1.55 0 1,0 3.1,0a1.55,1.55 0 1,0 -3.1,0M443.4,219.3m-1.55,0a1.55,1.55 0 1,0 3.1,0a1.55,1.55 0 1,0 -3.1,0M443.4,230.3m-1.55,0a1.55,1.55 0 1,0 3.1,0a1.55,1.55 0 1,0 -3.1,0M443.4,241.3m-1.55,0a1.55,1.55 0 1,0 3.1,0a1.55,1.55 0 1,0 -3.1,0M443.4,245.0m-1.55,0a1.55,1.55 0 1,0 3.1,0a1.55,1.55 0 1,0 -3.1,0M443.4,254.1m-1.55,0a1.55,1.55 0 1,0 3.1,0a1.55,1.55 0 1,0 -3.1,0M443.4,256.9m-1.55,0a1.55,1.55 0 1,0 3.1,0a1.55,1.55 0 1,0 -3.1,0M443.4,264.2m-1.55,0a1.55,1.55 0 1,0 3.1,0a1.55,1.55 0 1,0 -3.1,0M443.4,269.4m-1.55,0a1.55,1.55 0 1,0 3.1,0a1.55,1.55 0 1,0 -3.1,0M443.4,272.5m-1.55,0a1.55,1.55 0 1,0 3.1,0a1.55,1.55 0 1,0 -3.1,0M462.4,204.0m-1.55,0a1.55,1.55 0 1,0 3.1,0a1.55,1.55 0 1,0 -3.1,0M462.4,231.6m-1.55,0a1.55,1.55 0 1,0 3.1,0a1.55,1.55 0 1,0 -3.1,0M462.4,244.0m-1.55,0a1.55,1.55 0 1,0 3.1,0a1.55,1.55 0 1,0 -3.1,0M462.4,248.6m-1.55,0a1.55,1.55 0 1,0 3.1,0a1.55,1.55 0 1,0 -3.1,0M462.4,251.4m-1.55,0a1.55,1.55 0 1,0 3.1,0a1.55,1.55 0 1,0 -3.1,0" fill="#0a0a0a"/>
<line x1="395.9" y1="263.9" x2="462.3" y2="238.5" stroke="#111" stroke-width="1.35"/>
<path d="M544.25,188.75 V283.75 H638.00" fill="none" stroke="#111" stroke-width="1.6"/>
<line x1="540.65" y1="283.75" x2="544.25" y2="283.75" stroke="#111" stroke-width="1.5"/>
<text transform="translate(540.65,286.35) scale(0.88,1)" text-anchor="end" font-family='"Liberation Sans", sans-serif' font-weight="bold" font-size="7.2" fill="#222" stroke="#222" stroke-width="0.35">0.0</text>
<line x1="540.65" y1="260.00" x2="544.25" y2="260.00" stroke="#111" stroke-width="1.5"/>
<text transform="translate(540.65,262.60) scale(0.88,1)" text-anchor="end" font-family='"Liberation Sans", sans-serif' font-weight="bold" font-size="7.2" fill="#222" stroke="#222" stroke-width="0.35">0.5</text>
<line x1="540.65" y1="236.25" x2="544.25" y2="236.25" stroke="#111" stroke-width="1.5"/>
<text transform="translate(540.65,238.85) scale(0.88,1)" text-anchor="end" font-family='"Liberation Sans", sans-serif' font-weight="bold" font-size="7.2" fill="#222" stroke="#222" stroke-width="0.35">1.0</text>
<line x1="540.65" y1="212.50" x2="544.25" y2="212.50" stroke="#111" stroke-width="1.5"/>
<text transform="translate(540.65,215.10) scale(0.88,1)" text-anchor="end" font-family='"Liberation Sans", sans-serif' font-weight="bold" font-size="7.2" fill="#222" stroke="#222" stroke-width="0.35">1.5</text>
<line x1="540.65" y1="188.75" x2="544.25" y2="188.75" stroke="#111" stroke-width="1.5"/>
<text transform="translate(540.65,191.35) scale(0.88,1)" text-anchor="end" font-family='"Liberation Sans", sans-serif' font-weight="bold" font-size="7.2" fill="#222" stroke="#222" stroke-width="0.35">2.0</text>
<line x1="543.75" y1="283.75" x2="543.75" y2="286.95" stroke="#111" stroke-width="1.5"/>
<text transform="translate(543.75,293.95) scale(0.8,1)" text-anchor="middle" font-family='"Liberation Sans", sans-serif' font-weight="bold" font-size="7.2" fill="#222" stroke="#222" stroke-width="0.35">0</text>
<line x1="562.60" y1="283.75" x2="562.60" y2="286.95" stroke="#111" stroke-width="1.5"/>
<text transform="translate(562.60,293.95) scale(0.8,1)" text-anchor="middle" font-family='"Liberation Sans", sans-serif' font-weight="bold" font-size="7.2" fill="#222" stroke="#222" stroke-width="0.35">2</text>
<line x1="581.45" y1="283.75" x2="581.45" y2="286.95" stroke="#111" stroke-width="1.5"/>
<text transform="translate(581.45,293.95) scale(0.8,1)" text-anchor="middle" font-family='"Liberation Sans", sans-serif' font-weight="bold" font-size="7.2" fill="#222" stroke="#222" stroke-width="0.35">4</text>
<line x1="600.30" y1="283.75" x2="600.30" y2="286.95" stroke="#111" stroke-width="1.5"/>
<text transform="translate(600.30,293.95) scale(0.8,1)" text-anchor="middle" font-family='"Liberation Sans", sans-serif' font-weight="bold" font-size="7.2" fill="#222" stroke="#222" stroke-width="0.35">6</text>
<line x1="619.15" y1="283.75" x2="619.15" y2="286.95" stroke="#111" stroke-width="1.5"/>
<text transform="translate(619.15,293.95) scale(0.8,1)" text-anchor="middle" font-family='"Liberation Sans", sans-serif' font-weight="bold" font-size="7.2" fill="#222" stroke="#222" stroke-width="0.35">8</text>
<line x1="638.00" y1="283.75" x2="638.00" y2="286.95" stroke="#111" stroke-width="1.5"/>
<text transform="translate(638.00,293.95) scale(0.8,1)" text-anchor="middle" font-family='"Liberation Sans", sans-serif' font-weight="bold" font-size="7.2" fill="#222" stroke="#222" stroke-width="0.35">10</text>
<text x="556.75" y="177.10" font-family='"Liberation Serif", serif' font-weight="bold" font-size="10" fill="#111" textLength="61.25" lengthAdjust="spacingAndGlyphs">N IgA (serum)</text>
<text x="542.50" y="306.00" font-family='"Liberation Serif", serif' font-weight="bold" font-size="9" fill="#222" textLength="95.50" lengthAdjust="spacingAndGlyphs">Neutralizing antibody titers</text>
<text transform="translate(524.00,235.50) rotate(-90)" text-anchor="middle" font-family='"Liberation Serif", serif' font-weight="bold" font-size="8.5" fill="#222">OD<tspan font-size="6.12" dy="1.87">450</tspan></text>
<text x="550.00" y="194.50" font-family='"Liberation Serif", serif' font-size="6.8" fill="#444">R<tspan font-size="4.5" dy="-2.5">2</tspan><tspan dy="2.5">=0.426</tspan></text>
<text x="550.00" y="201.90" font-family='"Liberation Serif", serif' font-size="6.8" fill="#444">P&lt;0.0001</text>
<path d="M553.2,246.4m-1.55,0a1.55,1.55 0 1,0 3.1,0a1.55,1.55 0 1,0 -3.1,0M553.2,262.4m-1.55,0a1.55,1.55 0 1,0 3.1,0a1.55,1.55 0 1,0 -3.1,0M553.2,266.0m-1.55,0a1.55,1.55 0 1,0 3.1,0a1.55,1.55 0 1,0 -3.1,0M553.2,268.3m-1.55,0a1.55,1.55 0 1,0 3.1,0a1.55,1.55 0 1,0 -3.1,0M553.2,270.6m-1.55,0a1.55,1.55 0 1,0 3.1,0a1.55,1.55 0 1,0 -3.1,0M553.2,274.3m-1.55,0a1.55,1.55 0 1,0 3.1,0a1.55,1.55 0 1,0 -3.1,0M553.2,277.1m-1.55,0a1.55,1.55 0 1,0 3.1,0a1.55,1.55 0 1,0 -3.1,0M553.2,280.0m-1.55,0a1.55,1.55 0 1,0 3.1,0a1.55,1.55 0 1,0 -3.1,0M562.6,250.1m-1.55,0a1.55,1.55 0 1,0 3.1,0a1.55,1.55 0 1,0 -3.1,0M562.6,265.7m-1.55,0a1.55,1.55 0 1,0 3.1,0a1.55,1.55 0 1,0 -3.1,0M562.6,273.4m-1.55,0a1.55,1.55 0 1,0 3.1,0a1.55,1.55 0 1,0 -3.1,0M562.6,276.1m-1.55,0a1.55,1.55 0 1,0 3.1,0a1.55,1.55 0 1,0 -3.1,0M562.6,278.9m-1.55,0a1.55,1.55 0 1,0 3.1,0a1.55,1.55 0 1,0 -3.1,0M572.0,256.0m-1.55,0a1.55,1.55 0 1,0 3.1,0a1.55,1.55 0 1,0 -3.1,0M572.0,266.0m-1.55,0a1.55,1.55 0 1,0 3.1,0a1.55,1.55 0 1,0 -3.1,0M572.0,269.7m-1.55,0a1.55,1.55 0 1,0 3.1,0a1.55,1.55 0 1,0 -3.1,0M572.0,276.1m-1.55,0a1.55,1.55 0 1,0 3.1,0a1.55,1.55 0 1,0 -3.1,0M581.5,207.3m-1.55,0a1.55,1.55 0 1,0 3.1,0a1.55,1.55 0 1,0 -3.1,0M581.5,230.3m-1.55,0a1.55,1.55 0 1,0 3.1,0a1.55,1.55 0 1,0 -3.1,0M581.5,240.0m-1.55,0a1.55,1.55 0 1,0 3.1,0a1.55,1.55 0 1,0 -3.1,0M581.5,246.8m-1.55,0a1.55,1.55 0 1,0 3.1,0a1.55,1.55 0 1,0 -3.1,0M581.5,249.5m-1.55,0a1.55,1.55 0 1,0 3.1,0a1.55,1.55 0 1,0 -3.1,0M581.5,257.8m-1.55,0a1.55,1.55 0 1,0 3.1,0a1.55,1.55 0 1,0 -3.1,0M581.5,260.6m-1.55,0a1.55,1.55 0 1,0 3.1,0a1.55,1.55 0 1,0 -3.1,0M581.5,263.3m-1.55,0a1.55,1.55 0 1,0 3.1,0a1.55,1.55 0 1,0 -3.1,0M581.5,266.1m-1.55,0a1.55,1.55 0 1,0 3.1,0a1.55,1.55 0 1,0 -3.1,0M581.5,268.8m-1.55,0a1.55,1.55 0 1,0 3.1,0a1.55,1.55 0 1,0 -3.1,0M581.5,273.8m-1.55,0a1.55,1.55 0 1,0 3.1,0a1.55,1.55 0 1,0 -3.1,0M590.9,211.9m-1.55,0a1.55,1.55 0 1,0 3.1,0a1.55,1.55 0 1,0 -3.1,0M590.9,214.7m-1.55,0a1.55,1.55 0 1,0 3.1,0a1.55,1.55 0 1,0 -3.1,0M590.9,217.4m-1.55,0a1.55,1.55 0 1,0 3.1,0a1.55,1.55 0 1,0 -3.1,0M590.9,220.2m-1.55,0a1.55,1.55 0 1,0 3.1,0a1.55,1.55 0 1,0 -3.1,0M590.9,222.9m-1.55,0a1.55,1.55 0 1,0 3.1,0a1.55,1.55 0 1,0 -3.1,0M590.9,225.7m-1.55,0a1.55,1.55 0 1,0 3.1,0a1.55,1.55 0 1,0 -3.1,0M590.9,231.2m-1.55,0a1.55,1.55 0 1,0 3.1,0a1.55,1.55 0 1,0 -3.1,0M590.9,233.9m-1.55,0a1.55,1.55 0 1,0 3.1,0a1.55,1.55 0 1,0 -3.1,0M590.9,236.7m-1.55,0a1.55,1.55 0 1,0 3.1,0a1.55,1.55 0 1,0 -3.1,0M590.9,239.4m-1.55,0a1.55,1.55 0 1,0 3.1,0a1.55,1.55 0 1,0 -3.1,0M590.9,249.5m-1.55,0a1.55,1.55 0 1,0 3.1,0a1.55,1.55 0 1,0 -3.1,0M590.9,252.0m-1.55,0a1.55,1.55 0 1,0 3.1,0a1.55,1.55 0 1,0 -3.1,0M590.9,254.4m-1.55,0a1.55,1.55 0 1,0 3.1,0a1.55,1.55 0 1,0 -3.1,0M590.9,256.9m-1.55,0a1.55,1.55 0 1,0 3.1,0a1.55,1.55 0 1,0 -3.1,0M590.9,265.1m-1.55,0a1.55,1.55 0 1,0 3.1,0a1.55,1.55 0 1,0 -3.1,0M590.9,268.4m-1.55,0a1.55,1.55 0 1,0 3.1,0a1.55,1.55 0 1,0 -3.1,0M590.9,271.6m-1.55,0a1.55,1.55 0 1,0 3.1,0a1.55,1.55 0 1,0 -3.1,0M590.9,277.1m-1.55,0a1.55,1.55 0 1,0 3.1,0a1.55,1.55 0 1,0 -3.1,0M600.3,213.8m-1.55,0a1.55,1.55 0 1,0 3.1,0a1.55,1.55 0 1,0 -3.1,0M600.3,217.4m-1.55,0a1.55,1.55 0 1,0 3.1,0a1.55,1.55 0 1,0 -3.1,0M600.3,222.0m-1.55,0a1.55,1.55 0 1,0 3.1,0a1.55,1.55 0 1,0 -3.1,0M600.3,224.3m-1.55,0a1.55,1.55 0 1,0 3.1,0a1.55,1.55 0 1,0 -3.1,0M600.3,226.6m-1.55,0a1.55,1.55 0 1,0 3.1,0a1.55,1.55 0 1,0 -3.1,0M600.3,232.1m-1.55,0a1.55,1.55 0 1,0 3.1,0a1.55,1.55 0 1,0 -3.1,0M600.3,234.5m-1.55,0a1.55,1.55 0 1,0 3.1,0a1.55,1.55 0 1,0 -3.1,0M600.3,237.0m-1.55,0a1.55,1.55 0 1,0 3.1,0a1.55,1.55 0 1,0 -3.1,0M600.3,239.4m-1.55,0a1.55,1.55 0 1,0 3.1,0a1.55,1.55 0 1,0 -3.1,0M600.3,244.0m-1.55,0a1.55,1.55 0 1,0 3.1,0a1.55,1.55 0 1,0 -3.1,0M600.3,249.5m-1.55,0a1.55,1.55 0 1,0 3.1,0a1.55,1.55 0 1,0 -3.1,0M600.3,267.0m-1.55,0a1.55,1.55 0 1,0 3.1,0a1.55,1.55 0 1,0 -3.1,0M600.3,270.6m-1.55,0a1.55,1.55 0 1,0 3.1,0a1.55,1.55 0 1,0 -3.1,0M600.3,275.6m-1.55,0a1.55,1.55 0 1,0 3.1,0a1.55,1.55 0 1,0 -3.1,0M619.1,200.0m-1.55,0a1.55,1.55 0 1,0 3.1,0a1.55,1.55 0 1,0 -3.1,0M619.1,210.1m-1.55,0a1.55,1.55 0 1,0 3.1,0a1.55,1.55 0 1,0 -3.1,0M619.1,218.0m-1.55,0a1.55,1.55 0 1,0 3.1,0a1.55,1.55 0 1,0 -3.1,0M619.1,233.0m-1.55,0a1.55,1.55 0 1,0 3.1,0a1.55,1.55 0 1,0 -3.1,0" fill="#0a0a0a"/>
<line x1="554.1" y1="274.9" x2="619.2" y2="225.3" stroke="#111" stroke-width="1.35"/>
<path d="M18,342 V413.5 H317.5 V342" fill="none" stroke="#444" stroke-width="1"/>
<line x1="16.4" y1="413.50" x2="18" y2="413.50" stroke="#222" stroke-width="0.8"/>
<text transform="translate(16.2,415.40) scale(0.85,1)" text-anchor="end" font-family='"Liberation Sans", sans-serif' font-weight="bold" font-size="5.4" fill="#333">0</text>
<line x1="16.4" y1="399.20" x2="18" y2="399.20" stroke="#222" stroke-width="0.8"/>
<text transform="translate(16.2,401.10) scale(0.85,1)" text-anchor="end" font-family='"Liberation Sans", sans-serif' font-weight="bold" font-size="5.4" fill="#333">2</text>
<line x1="16.4" y1="384.90" x2="18" y2="384.90" stroke="#222" stroke-width="0.8"/>
<text transform="translate(16.2,386.80) scale(0.85,1)" text-anchor="end" font-family='"Liberation Sans", sans-serif' font-weight="bold" font-size="5.4" fill="#333">4</text>
<line x1="16.4" y1="370.60" x2="18" y2="370.60" stroke="#222" stroke-width="0.8"/>
<text transform="translate(16.2,372.50) scale(0.85,1)" text-anchor="end" font-family='"Liberation Sans", sans-serif' font-weight="bold" font-size="5.4" fill="#333">6</text>
<line x1="16.4" y1="356.30" x2="18" y2="356.30" stroke="#222" stroke-width="0.8"/>
<text transform="translate(16.2,358.20) scale(0.85,1)" text-anchor="end" font-family='"Liberation Sans", sans-serif' font-weight="bold" font-size="5.4" fill="#333">8</text>
<line x1="16.4" y1="342.00" x2="18" y2="342.00" stroke="#222" stroke-width="0.8"/>
<text transform="translate(16.2,343.90) scale(0.85,1)" text-anchor="end" font-family='"Liberation Sans", sans-serif' font-weight="bold" font-size="5.4" fill="#333">10</text>
<line x1="317.5" y1="413.50" x2="319.1" y2="413.50" stroke="#222" stroke-width="0.8"/>
<text transform="translate(319.7,415.40) scale(0.85,1)" font-family='"Liberation Sans", sans-serif' font-weight="bold" font-size="5.4" fill="#333">0</text>
<line x1="317.5" y1="389.67" x2="319.1" y2="389.67" stroke="#222" stroke-width="0.8"/>
<text transform="translate(319.7,391.57) scale(0.85,1)" font-family='"Liberation Sans", sans-serif' font-weight="bold" font-size="5.4" fill="#333">1</text>
<line x1="317.5" y1="365.83" x2="319.1" y2="365.83" stroke="#222" stroke-width="0.8"/>
<text transform="translate(319.7,367.73) scale(0.85,1)" font-family='"Liberation Sans", sans-serif' font-weight="bold" font-size="5.4" fill="#333">2</text>
<line x1="317.5" y1="342.00" x2="319.1" y2="342.00" stroke="#222" stroke-width="0.8"/>
<text transform="translate(319.7,343.90) scale(0.85,1)" font-family='"Liberation Sans", sans-serif' font-weight="bold" font-size="5.4" fill="#333">3</text>
<line x1="18.00" y1="413.5" x2="18.00" y2="415.1" stroke="#222" stroke-width="0.8"/>
<text transform="translate(18.00,420.50) scale(0.85,1)" text-anchor="middle" font-family='"Liberation Sans", sans-serif' font-weight="bold" font-size="5.4" fill="#333">0</text>
<line x1="33.77" y1="413.5" x2="33.77" y2="415.1" stroke="#222" stroke-width="0.8"/>
<text transform="translate(33.77,420.50) scale(0.85,1)" text-anchor="middle" font-family='"Liberation Sans", sans-serif' font-weight="bold" font-size="5.4" fill="#333">5</text>
<line x1="49.55" y1="413.5" x2="49.55" y2="415.1" stroke="#222" stroke-width="0.8"/>
<text transform="translate(49.55,420.50) scale(0.85,1)" text-anchor="middle" font-family='"Liberation Sans", sans-serif' font-weight="bold" font-size="5.4" fill="#333">10</text>
<line x1="65.32" y1="413.5" x2="65.32" y2="415.1" stroke="#222" stroke-width="0.8"/>
<text transform="translate(65.32,420.50) scale(0.85,1)" text-anchor="middle" font-family='"Liberation Sans", sans-serif' font-weight="bold" font-size="5.4" fill="#333">15</text>
<line x1="81.10" y1="413.5" x2="81.10" y2="415.1" stroke="#222" stroke-width="0.8"/>
<text transform="translate(81.10,420.50) scale(0.85,1)" text-anchor="middle" font-family='"Liberation Sans", sans-serif' font-weight="bold" font-size="5.4" fill="#333">20</text>
<line x1="96.88" y1="413.5" x2="96.88" y2="415.1" stroke="#222" stroke-width="0.8"/>
<text transform="translate(96.88,420.50) scale(0.85,1)" text-anchor="middle" font-family='"Liberation Sans", sans-serif' font-weight="bold" font-size="5.4" fill="#333">25</text>
<line x1="112.65" y1="413.5" x2="112.65" y2="415.1" stroke="#222" stroke-width="0.8"/>
<text transform="translate(112.65,420.50) scale(0.85,1)" text-anchor="middle" font-family='"Liberation Sans", sans-serif' font-weight="bold" font-size="5.4" fill="#333">30</text>
<line x1="128.43" y1="413.5" x2="128.43" y2="415.1" stroke="#222" stroke-width="0.8"/>
<text transform="translate(128.43,420.50) scale(0.85,1)" text-anchor="middle" font-family='"Liberation Sans", sans-serif' font-weight="bold" font-size="5.4" fill="#333">35</text>
<line x1="144.20" y1="413.5" x2="144.20" y2="415.1" stroke="#222" stroke-width="0.8"/>
<text transform="translate(144.20,420.50) scale(0.85,1)" text-anchor="middle" font-family='"Liberation Sans", sans-serif' font-weight="bold" font-size="5.4" fill="#333">40</text>
<line x1="159.97" y1="413.5" x2="159.97" y2="415.1" stroke="#222" stroke-width="0.8"/>
<text transform="translate(159.97,420.50) scale(0.85,1)" text-anchor="middle" font-family='"Liberation Sans", sans-serif' font-weight="bold" font-size="5.4" fill="#333">45</text>
<line x1="175.75" y1="413.5" x2="175.75" y2="415.1" stroke="#222" stroke-width="0.8"/>
<text transform="translate(175.75,420.50) scale(0.85,1)" text-anchor="middle" font-family='"Liberation Sans", sans-serif' font-weight="bold" font-size="5.4" fill="#333">50</text>
<line x1="191.52" y1="413.5" x2="191.52" y2="415.1" stroke="#222" stroke-width="0.8"/>
<text transform="translate(191.52,420.50) scale(0.85,1)" text-anchor="middle" font-family='"Liberation Sans", sans-serif' font-weight="bold" font-size="5.4" fill="#333">55</text>
<line x1="207.30" y1="413.5" x2="207.30" y2="415.1" stroke="#222" stroke-width="0.8"/>
<text transform="translate(207.30,420.50) scale(0.85,1)" text-anchor="middle" font-family='"Liberation Sans", sans-serif' font-weight="bold" font-size="5.4" fill="#333">60</text>
<line x1="223.07" y1="413.5" x2="223.07" y2="415.1" stroke="#222" stroke-width="0.8"/>
<text transform="translate(223.07,420.50) scale(0.85,1)" text-anchor="middle" font-family='"Liberation Sans", sans-serif' font-weight="bold" font-size="5.4" fill="#333">65</text>
<line x1="238.85" y1="413.5" x2="238.85" y2="415.1" stroke="#222" stroke-width="0.8"/>
<text transform="translate(238.85,420.50) scale(0.85,1)" text-anchor="middle" font-family='"Liberation Sans", sans-serif' font-weight="bold" font-size="5.4" fill="#333">70</text>
<line x1="254.62" y1="413.5" x2="254.62" y2="415.1" stroke="#222" stroke-width="0.8"/>
<text transform="translate(254.62,420.50) scale(0.85,1)" text-anchor="middle" font-family='"Liberation Sans", sans-serif' font-weight="bold" font-size="5.4" fill="#333">75</text>
<line x1="270.40" y1="413.5" x2="270.40" y2="415.1" stroke="#222" stroke-width="0.8"/>
<text transform="translate(270.40,420.50) scale(0.85,1)" text-anchor="middle" font-family='"Liberation Sans", sans-serif' font-weight="bold" font-size="5.4" fill="#333">80</text>
<line x1="286.18" y1="413.5" x2="286.18" y2="415.1" stroke="#222" stroke-width="0.8"/>
<text transform="translate(286.18,420.50) scale(0.85,1)" text-anchor="middle" font-family='"Liberation Sans", sans-serif' font-weight="bold" font-size="5.4" fill="#333">85</text>
<line x1="301.95" y1="413.5" x2="301.95" y2="415.1" stroke="#222" stroke-width="0.8"/>
<text transform="translate(301.95,420.50) scale(0.85,1)" text-anchor="middle" font-family='"Liberation Sans", sans-serif' font-weight="bold" font-size="5.4" fill="#333">90</text>
<line x1="317.72" y1="413.5" x2="317.72" y2="415.1" stroke="#222" stroke-width="0.8"/>
<text transform="translate(317.72,420.50) scale(0.85,1)" text-anchor="middle" font-family='"Liberation Sans", sans-serif' font-weight="bold" font-size="5.4" fill="#333">95</text>
<text x="101" y="334" font-family='"Liberation Serif", serif' font-weight="bold" font-size="5.6" fill="#111" textLength="137.5" lengthAdjust="spacingAndGlyphs">Correlation between IgG-ELISA and Neutralization in serum</text>
<text x="143" y="427.3" font-family='"Liberation Serif", serif' font-weight="bold" font-size="5.6" fill="#111" textLength="50.5" lengthAdjust="spacingAndGlyphs">The number of samples</text>
<text transform="translate(8.1,378.25) rotate(-90)" text-anchor="middle" font-family='"Liberation Serif", serif' font-weight="bold" font-size="5.6" fill="#111" textLength="64" lengthAdjust="spacingAndGlyphs">Neutralizing antibody titers</text>
<text transform="translate(323.0,377.75) rotate(90)" text-anchor="middle" font-family='"Liberation Serif", serif' font-weight="bold" font-size="5.4" fill="#111">OD<tspan font-size="3.8" dy="1.2">450</tspan></text>
<polyline points="21.16,367.02 24.31,369.05 27.46,368.03 30.62,368.68 33.77,371.63 36.93,361.18 40.08,365.87 43.24,376.57 46.39,371.40 49.55,380.24 52.70,378.14 55.86,375.89 59.02,377.19 62.17,366.34 65.32,372.59 68.48,368.41 71.63,382.41 74.79,371.60 77.94,382.82 81.10,384.21 84.25,373.17 87.41,371.01 90.56,374.89 93.72,370.86 96.88,373.73 100.03,368.72 103.18,362.38 106.34,377.69 109.49,377.13 112.65,373.78 115.80,407.77 118.96,374.67 122.11,361.88 125.27,367.56 128.43,362.99 131.58,366.08 134.74,367.98 137.89,369.63 141.04,365.78 144.20,360.04 147.35,368.98 150.51,359.38 153.66,358.16 156.82,356.76 159.97,364.16 163.13,361.61 166.28,362.27 169.44,364.50 172.59,368.16 175.75,369.12 178.91,374.28 182.06,368.82 185.22,365.25 188.37,370.72 191.52,371.79 194.68,367.98 197.83,372.60 200.99,367.35 204.14,372.79 207.30,373.79 210.45,371.56 213.61,368.18 216.76,379.40 219.92,368.11 223.07,380.31 226.23,364.29 229.38,370.13 232.54,371.12 235.69,364.16 238.85,374.95 242.00,374.71 245.16,377.04 248.31,363.03 251.47,372.81 254.62,372.39 257.78,371.42 260.93,377.88 264.09,364.54 267.25,372.60 270.40,377.81 273.55,385.91 276.71,390.64 279.87,374.84 283.02,359.90 286.18,355.32 289.33,364.49 292.48,357.61 295.64,355.32 298.79,354.17 301.95,367.93 305.10,374.82 308.26,385.14 311.41,382.83" fill="none" stroke="#f5c58f" stroke-width="0.95" stroke-linejoin="round"/>
<polyline points="21.16,408.66 24.31,410.45 27.46,391.67 30.62,394.35 33.77,405.98 36.93,377.36 40.08,388.09 43.24,405.08 46.39,409.56 49.55,411.35 52.70,410.45 55.86,409.56 59.02,410.45 62.17,408.66 65.32,408.66 68.48,409.56 71.63,411.35 74.79,405.08 77.94,408.66 81.10,411.35 84.25,405.08 87.41,410.45 90.56,411.35 93.72,411.35 96.88,410.45 100.03,408.66 103.18,411.35 106.34,408.66 109.49,406.87 112.65,410.45 115.80,411.35 118.96,409.56 122.11,404.19 125.27,401.51 128.43,407.77 131.58,400.61 134.74,405.08 137.89,404.19 141.04,409.56 144.20,407.77 147.35,406.87 150.51,398.82 153.66,401.51 156.82,399.72 159.97,406.87 163.13,405.08 166.28,408.66 169.44,410.45 172.59,397.11 175.75,398.73 178.91,400.36 182.06,397.11 185.22,382.45 188.37,406.87 191.52,388.97 194.68,397.11 197.83,375.94 200.99,365.35 204.14,375.12 207.30,373.49 210.45,366.98 213.61,377.57 216.76,380.00 219.92,382.45 223.07,377.57 226.23,379.20 229.38,388.97 232.54,382.72 235.69,374.82 238.85,369.65 242.00,380.54 245.16,373.67 248.31,378.25 251.47,389.14 254.62,369.07 257.78,389.14 260.93,389.72 264.09,384.55 267.25,389.14 270.40,377.11 273.55,377.68 276.71,387.43 279.87,379.40 283.02,365.64 286.18,367.93 289.33,365.07 292.48,373.67 295.64,383.40 298.79,377.11 301.95,379.40 305.10,392.01 308.26,396.14 311.41,401.51" fill="none" stroke="#a23be8" stroke-width="0.95" stroke-linejoin="round"/>
<polyline points="21.16,377.36 24.31,385.41 27.46,377.36 30.62,385.41 33.77,371.09 36.93,371.09 40.08,385.41 43.24,399.72 46.39,399.72 49.55,399.72 52.70,385.41 55.86,377.36 59.02,385.41 62.17,377.36 65.32,392.56 68.48,385.41 71.63,377.36 74.79,377.36 77.94,377.36 81.10,405.98 84.25,405.98 87.41,377.36 90.56,377.36 93.72,376.46 96.88,407.77 100.03,376.46 103.18,376.46 106.34,377.36 109.49,376.46 112.65,371.09 115.80,371.09 118.96,371.09 122.11,399.72 125.27,370.20 128.43,371.09 131.58,370.20 134.74,363.94 137.89,355.89 141.04,355.89 144.20,355.89 147.35,371.09 150.51,377.36 153.66,377.36 156.82,355.89 159.97,377.36 163.13,357.68 166.28,357.68 169.44,363.04 172.59,385.41 175.75,385.41 178.91,391.67 182.06,384.51 185.22,385.41 188.37,376.46 191.52,372.88 194.68,385.41 197.83,385.41 200.99,376.75 204.14,384.08 207.30,384.08 210.45,392.22 213.61,385.71 216.76,380.01 219.92,384.08 223.07,384.08 226.23,374.31 229.38,377.57 232.54,374.31 235.69,384.08 238.85,374.31 242.00,384.08 245.16,376.75 248.31,371.05 251.47,384.08 254.62,384.08 257.78,398.74 260.93,398.82 264.09,385.41 267.25,391.67 270.40,405.98 273.55,405.98 276.71,405.98 279.87,399.72 283.02,405.98 286.18,405.98 289.33,399.72 292.48,405.98 295.64,405.98 298.79,405.98 301.95,405.98 305.10,405.98 308.26,405.98 311.41,405.98" fill="none" stroke="#2fc82f" stroke-width="0.95" stroke-linejoin="round"/>
<path d="M20.26,376.46h1.8v1.8h-1.8zM23.41,384.51h1.8v1.8h-1.8zM26.57,376.46h1.8v1.8h-1.8zM29.72,384.51h1.8v1.8h-1.8zM32.88,370.19h1.8v1.8h-1.8zM36.03,370.19h1.8v1.8h-1.8zM39.18,384.51h1.8v1.8h-1.8zM42.34,398.82h1.8v1.8h-1.8zM45.49,398.82h1.8v1.8h-1.8zM48.65,398.82h1.8v1.8h-1.8zM51.80,384.51h1.8v1.8h-1.8zM54.96,376.46h1.8v1.8h-1.8zM58.12,384.51h1.8v1.8h-1.8zM61.27,376.46h1.8v1.8h-1.8zM64.42,391.66h1.8v1.8h-1.8zM67.58,384.51h1.8v1.8h-1.8zM70.73,376.46h1.8v1.8h-1.8zM73.89,376.46h1.8v1.8h-1.8zM77.04,376.46h1.8v1.8h-1.8zM80.20,405.08h1.8v1.8h-1.8zM83.35,405.08h1.8v1.8h-1.8zM86.51,376.46h1.8v1.8h-1.8zM89.66,376.46h1.8v1.8h-1.8zM92.82,375.56h1.8v1.8h-1.8zM95.97,406.87h1.8v1.8h-1.8zM99.13,375.56h1.8v1.8h-1.8zM102.28,375.56h1.8v1.8h-1.8zM105.44,376.46h1.8v1.8h-1.8zM108.59,375.56h1.8v1.8h-1.8zM111.75,370.19h1.8v1.8h-1.8zM114.90,370.19h1.8v1.8h-1.8zM118.06,370.19h1.8v1.8h-1.8zM121.21,398.82h1.8v1.8h-1.8zM124.37,369.30h1.8v1.8h-1.8zM127.53,370.19h1.8v1.8h-1.8zM130.68,369.30h1.8v1.8h-1.8zM133.84,363.04h1.8v1.8h-1.8zM136.99,354.99h1.8v1.8h-1.8zM140.14,354.99h1.8v1.8h-1.8zM143.30,354.99h1.8v1.8h-1.8zM146.45,370.19h1.8v1.8h-1.8zM149.61,376.46h1.8v1.8h-1.8zM152.76,376.46h1.8v1.8h-1.8zM155.92,354.99h1.8v1.8h-1.8zM159.07,376.46h1.8v1.8h-1.8zM162.23,356.78h1.8v1.8h-1.8zM165.38,356.78h1.8v1.8h-1.8zM168.54,362.14h1.8v1.8h-1.8zM171.69,384.51h1.8v1.8h-1.8zM174.85,384.51h1.8v1.8h-1.8zM178.00,390.77h1.8v1.8h-1.8zM181.16,383.61h1.8v1.8h-1.8zM184.31,384.51h1.8v1.8h-1.8zM187.47,375.56h1.8v1.8h-1.8zM190.62,371.98h1.8v1.8h-1.8zM193.78,384.51h1.8v1.8h-1.8zM196.93,384.51h1.8v1.8h-1.8zM200.09,375.85h1.8v1.8h-1.8zM203.24,383.18h1.8v1.8h-1.8zM206.40,383.18h1.8v1.8h-1.8zM209.55,391.32h1.8v1.8h-1.8zM212.71,384.81h1.8v1.8h-1.8zM215.86,379.11h1.8v1.8h-1.8zM219.02,383.18h1.8v1.8h-1.8zM222.17,383.18h1.8v1.8h-1.8zM225.33,373.41h1.8v1.8h-1.8zM228.48,376.67h1.8v1.8h-1.8zM231.64,373.41h1.8v1.8h-1.8zM234.79,383.18h1.8v1.8h-1.8zM237.95,373.41h1.8v1.8h-1.8zM241.10,383.18h1.8v1.8h-1.8zM244.26,375.85h1.8v1.8h-1.8zM247.41,370.15h1.8v1.8h-1.8zM250.57,383.18h1.8v1.8h-1.8zM253.72,383.18h1.8v1.8h-1.8zM256.88,397.84h1.8v1.8h-1.8zM260.03,397.92h1.8v1.8h-1.8zM263.19,384.51h1.8v1.8h-1.8zM266.35,390.77h1.8v1.8h-1.8zM269.50,405.08h1.8v1.8h-1.8zM272.65,405.08h1.8v1.8h-1.8zM275.81,405.08h1.8v1.8h-1.8zM278.97,398.82h1.8v1.8h-1.8zM282.12,405.08h1.8v1.8h-1.8zM285.28,405.08h1.8v1.8h-1.8zM288.43,398.82h1.8v1.8h-1.8zM291.58,405.08h1.8v1.8h-1.8zM294.74,405.08h1.8v1.8h-1.8zM297.89,405.08h1.8v1.8h-1.8zM301.05,405.08h1.8v1.8h-1.8zM304.20,405.08h1.8v1.8h-1.8zM307.36,405.08h1.8v1.8h-1.8zM310.51,405.08h1.8v1.8h-1.8z" fill="#2fc82f"/>
<polyline points="21.16,376.46 24.31,370.20 27.46,371.99 30.62,372.53 33.77,372.88 36.93,370.20 40.08,370.20 43.24,371.09 46.39,370.20 49.55,386.30 52.70,386.30 55.86,386.30 59.02,384.87 62.17,368.41 65.32,373.78 68.48,374.67 71.63,378.25 74.79,369.84 77.94,375.57 81.10,390.77 84.25,377.36 87.41,378.25 90.56,380.93 93.72,374.31 96.88,372.70 100.03,381.11 103.18,362.15 106.34,377.36 109.49,379.50 112.65,375.03 115.80,384.15 118.96,372.70 122.11,365.19 125.27,370.38 128.43,369.66 131.58,363.58 134.74,368.23 137.89,378.79 141.04,373.42 144.20,366.62 147.35,372.68 150.51,363.72 153.66,361.28 156.82,362.10 159.97,374.31 163.13,369.42 166.28,370.24 169.44,371.05 172.59,369.42 175.75,373.50 178.91,385.71 182.06,373.50 185.22,364.54 188.37,370.24 191.52,374.31 194.68,367.80 197.83,374.31 200.99,375.12 204.14,375.94 207.30,372.68 210.45,365.35 213.61,366.17 216.76,380.01 219.92,373.50 223.07,383.27 226.23,370.24 229.38,367.80 232.54,372.68 235.69,366.21 238.85,374.82 242.00,377.11 245.16,386.86 248.31,360.47 251.47,375.96 254.62,381.69 257.78,379.40 260.93,375.39 264.09,363.92 267.25,373.67 270.40,371.94 273.55,382.83 276.71,387.43 279.87,373.67 283.02,363.92 286.18,369.07 289.33,371.94 292.48,372.53 295.64,362.20 298.79,375.96 301.95,374.82 305.10,383.97 308.26,375.39 311.41,375.96" fill="none" stroke="#1c1cc0" stroke-width="0.95" stroke-linejoin="round"/>
<path d="M19.96,375.26h2.4v2.4h-2.4zM23.11,369.00h2.4v2.4h-2.4zM26.27,370.79h2.4v2.4h-2.4zM29.42,371.33h2.4v2.4h-2.4zM32.57,371.68h2.4v2.4h-2.4zM35.73,369.00h2.4v2.4h-2.4zM38.88,369.00h2.4v2.4h-2.4zM42.04,369.89h2.4v2.4h-2.4zM45.19,369.00h2.4v2.4h-2.4zM48.35,385.10h2.4v2.4h-2.4zM51.50,385.10h2.4v2.4h-2.4zM54.66,385.10h2.4v2.4h-2.4zM57.81,383.67h2.4v2.4h-2.4zM60.97,367.21h2.4v2.4h-2.4zM64.12,372.58h2.4v2.4h-2.4zM67.28,373.47h2.4v2.4h-2.4zM70.43,377.05h2.4v2.4h-2.4zM73.59,368.64h2.4v2.4h-2.4zM76.74,374.37h2.4v2.4h-2.4zM79.90,389.57h2.4v2.4h-2.4zM83.05,376.16h2.4v2.4h-2.4zM86.21,377.05h2.4v2.4h-2.4zM89.36,379.73h2.4v2.4h-2.4zM92.52,373.11h2.4v2.4h-2.4zM95.67,371.50h2.4v2.4h-2.4zM98.83,379.91h2.4v2.4h-2.4zM101.98,360.95h2.4v2.4h-2.4zM105.14,376.16h2.4v2.4h-2.4zM108.29,378.30h2.4v2.4h-2.4zM111.45,373.83h2.4v2.4h-2.4zM114.60,382.95h2.4v2.4h-2.4zM117.76,371.50h2.4v2.4h-2.4zM120.91,363.99h2.4v2.4h-2.4zM124.07,369.18h2.4v2.4h-2.4zM127.23,368.46h2.4v2.4h-2.4zM130.38,362.38h2.4v2.4h-2.4zM133.54,367.03h2.4v2.4h-2.4zM136.69,377.59h2.4v2.4h-2.4zM139.84,372.22h2.4v2.4h-2.4zM143.00,365.42h2.4v2.4h-2.4zM146.16,371.48h2.4v2.4h-2.4zM149.31,362.52h2.4v2.4h-2.4zM152.47,360.08h2.4v2.4h-2.4zM155.62,360.90h2.4v2.4h-2.4zM158.78,373.11h2.4v2.4h-2.4zM161.93,368.22h2.4v2.4h-2.4zM165.09,369.04h2.4v2.4h-2.4zM168.24,369.85h2.4v2.4h-2.4zM171.40,368.22h2.4v2.4h-2.4zM174.55,372.30h2.4v2.4h-2.4zM177.71,384.51h2.4v2.4h-2.4zM180.86,372.30h2.4v2.4h-2.4zM184.02,363.34h2.4v2.4h-2.4zM187.17,369.04h2.4v2.4h-2.4zM190.32,373.11h2.4v2.4h-2.4zM193.48,366.60h2.4v2.4h-2.4zM196.63,373.11h2.4v2.4h-2.4zM199.79,373.92h2.4v2.4h-2.4zM202.94,374.74h2.4v2.4h-2.4zM206.10,371.48h2.4v2.4h-2.4zM209.25,364.15h2.4v2.4h-2.4zM212.41,364.97h2.4v2.4h-2.4zM215.56,378.81h2.4v2.4h-2.4zM218.72,372.30h2.4v2.4h-2.4zM221.88,382.07h2.4v2.4h-2.4zM225.03,369.04h2.4v2.4h-2.4zM228.19,366.60h2.4v2.4h-2.4zM231.34,371.48h2.4v2.4h-2.4zM234.50,365.01h2.4v2.4h-2.4zM237.65,373.62h2.4v2.4h-2.4zM240.81,375.91h2.4v2.4h-2.4zM243.96,385.66h2.4v2.4h-2.4zM247.12,359.27h2.4v2.4h-2.4zM250.27,374.76h2.4v2.4h-2.4zM253.42,380.49h2.4v2.4h-2.4zM256.58,378.20h2.4v2.4h-2.4zM259.73,374.19h2.4v2.4h-2.4zM262.89,362.72h2.4v2.4h-2.4zM266.05,372.47h2.4v2.4h-2.4zM269.20,370.74h2.4v2.4h-2.4zM272.35,381.63h2.4v2.4h-2.4zM275.51,386.23h2.4v2.4h-2.4zM278.67,372.47h2.4v2.4h-2.4zM281.82,362.72h2.4v2.4h-2.4zM284.98,367.87h2.4v2.4h-2.4zM288.13,370.74h2.4v2.4h-2.4zM291.28,371.33h2.4v2.4h-2.4zM294.44,361.00h2.4v2.4h-2.4zM297.59,374.76h2.4v2.4h-2.4zM300.75,373.62h2.4v2.4h-2.4zM303.90,382.77h2.4v2.4h-2.4zM307.06,374.19h2.4v2.4h-2.4zM310.21,374.76h2.4v2.4h-2.4z" fill="#1c1cc0"/>
<polyline points="21.16,359.82 24.31,367.52 27.46,365.19 30.62,363.94 33.77,369.31 36.93,355.89 40.08,365.73 43.24,379.14 46.39,374.67 49.55,376.46 52.70,365.73 55.86,365.73 59.02,366.62 62.17,364.48 65.32,370.20 68.48,369.84 71.63,385.41 74.79,370.20 77.94,389.88 81.10,375.57 84.25,367.52 87.41,367.52 90.56,366.62 93.72,366.62 96.88,376.46 100.03,360.36 103.18,359.47 106.34,378.25 109.49,372.88 112.65,371.99 115.80,376.46 118.96,370.20 122.11,359.47 125.27,362.15 128.43,356.78 131.58,364.83 134.74,364.48 137.89,363.94 141.04,361.26 144.20,355.89 147.35,361.28 150.51,355.58 153.66,353.95 156.82,353.14 159.97,353.95 163.13,354.77 166.28,355.58 169.44,357.21 172.59,366.17 175.75,361.28 178.91,361.28 182.06,360.47 185.22,362.91 188.37,366.98 191.52,367.80 194.68,371.05 197.83,367.80 200.99,355.58 204.14,366.17 207.30,374.31 210.45,375.94 213.61,372.68 216.76,375.94 219.92,362.10 223.07,379.20 226.23,362.10 229.38,369.42 232.54,365.35 235.69,365.64 238.85,372.51 242.00,373.08 245.16,370.22 248.31,367.36 251.47,367.36 254.62,359.90 257.78,367.36 260.93,379.40 264.09,369.07 267.25,369.65 270.40,385.14 273.55,385.71 276.71,389.72 279.87,375.96 283.02,363.92 286.18,369.65 289.33,367.93 292.48,382.83 295.64,372.53 298.79,375.39 301.95,378.25 305.10,381.69 308.26,376.53 311.41,378.82" fill="none" stroke="#e42222" stroke-width="0.95" stroke-linejoin="round"/>
<path d="M21.16,359.82m-1,0a1,1 0 1,0 2,0a1,1 0 1,0 -2,0M24.31,367.52m-1,0a1,1 0 1,0 2,0a1,1 0 1,0 -2,0M27.46,365.19m-1,0a1,1 0 1,0 2,0a1,1 0 1,0 -2,0M30.62,363.94m-1,0a1,1 0 1,0 2,0a1,1 0 1,0 -2,0M33.77,369.31m-1,0a1,1 0 1,0 2,0a1,1 0 1,0 -2,0M36.93,355.89m-1,0a1,1 0 1,0 2,0a1,1 0 1,0 -2,0M40.08,365.73m-1,0a1,1 0 1,0 2,0a1,1 0 1,0 -2,0M43.24,379.14m-1,0a1,1 0 1,0 2,0a1,1 0 1,0 -2,0M46.39,374.67m-1,0a1,1 0 1,0 2,0a1,1 0 1,0 -2,0M49.55,376.46m-1,0a1,1 0 1,0 2,0a1,1 0 1,0 -2,0M52.70,365.73m-1,0a1,1 0 1,0 2,0a1,1 0 1,0 -2,0M55.86,365.73m-1,0a1,1 0 1,0 2,0a1,1 0 1,0 -2,0M59.02,366.62m-1,0a1,1 0 1,0 2,0a1,1 0 1,0 -2,0M62.17,364.48m-1,0a1,1 0 1,0 2,0a1,1 0 1,0 -2,0M65.32,370.20m-1,0a1,1 0 1,0 2,0a1,1 0 1,0 -2,0M68.48,369.84m-1,0a1,1 0 1,0 2,0a1,1 0 1,0 -2,0M71.63,385.41m-1,0a1,1 0 1,0 2,0a1,1 0 1,0 -2,0M74.79,370.20m-1,0a1,1 0 1,0 2,0a1,1 0 1,0 -2,0M77.94,389.88m-1,0a1,1 0 1,0 2,0a1,1 0 1,0 -2,0M81.10,375.57m-1,0a1,1 0 1,0 2,0a1,1 0 1,0 -2,0M84.25,367.52m-1,0a1,1 0 1,0 2,0a1,1 0 1,0 -2,0M87.41,367.52m-1,0a1,1 0 1,0 2,0a1,1 0 1,0 -2,0M90.56,366.62m-1,0a1,1 0 1,0 2,0a1,1 0 1,0 -2,0M93.72,366.62m-1,0a1,1 0 1,0 2,0a1,1 0 1,0 -2,0M96.88,376.46m-1,0a1,1 0 1,0 2,0a1,1 0 1,0 -2,0M100.03,360.36m-1,0a1,1 0 1,0 2,0a1,1 0 1,0 -2,0M103.18,359.47m-1,0a1,1 0 1,0 2,0a1,1 0 1,0 -2,0M106.34,378.25m-1,0a1,1 0 1,0 2,0a1,1 0 1,0 -2,0M109.49,372.88m-1,0a1,1 0 1,0 2,0a1,1 0 1,0 -2,0M112.65,371.99m-1,0a1,1 0 1,0 2,0a1,1 0 1,0 -2,0M115.80,376.46m-1,0a1,1 0 1,0 2,0a1,1 0 1,0 -2,0M118.96,370.20m-1,0a1,1 0 1,0 2,0a1,1 0 1,0 -2,0M122.11,359.47m-1,0a1,1 0 1,0 2,0a1,1 0 1,0 -2,0M125.27,362.15m-1,0a1,1 0 1,0 2,0a1,1 0 1,0 -2,0M128.43,356.78m-1,0a1,1 0 1,0 2,0a1,1 0 1,0 -2,0M131.58,364.83m-1,0a1,1 0 1,0 2,0a1,1 0 1,0 -2,0M134.74,364.48m-1,0a1,1 0 1,0 2,0a1,1 0 1,0 -2,0M137.89,363.94m-1,0a1,1 0 1,0 2,0a1,1 0 1,0 -2,0M141.04,361.26m-1,0a1,1 0 1,0 2,0a1,1 0 1,0 -2,0M144.20,355.89m-1,0a1,1 0 1,0 2,0a1,1 0 1,0 -2,0M147.35,361.28m-1,0a1,1 0 1,0 2,0a1,1 0 1,0 -2,0M150.51,355.58m-1,0a1,1 0 1,0 2,0a1,1 0 1,0 -2,0M153.66,353.95m-1,0a1,1 0 1,0 2,0a1,1 0 1,0 -2,0M156.82,353.14m-1,0a1,1 0 1,0 2,0a1,1 0 1,0 -2,0M159.97,353.95m-1,0a1,1 0 1,0 2,0a1,1 0 1,0 -2,0M163.13,354.77m-1,0a1,1 0 1,0 2,0a1,1 0 1,0 -2,0M166.28,355.58m-1,0a1,1 0 1,0 2,0a1,1 0 1,0 -2,0M169.44,357.21m-1,0a1,1 0 1,0 2,0a1,1 0 1,0 -2,0M172.59,366.17m-1,0a1,1 0 1,0 2,0a1,1 0 1,0 -2,0M175.75,361.28m-1,0a1,1 0 1,0 2,0a1,1 0 1,0 -2,0M178.91,361.28m-1,0a1,1 0 1,0 2,0a1,1 0 1,0 -2,0M182.06,360.47m-1,0a1,1 0 1,0 2,0a1,1 0 1,0 -2,0M185.22,362.91m-1,0a1,1 0 1,0 2,0a1,1 0 1,0 -2,0M188.37,366.98m-1,0a1,1 0 1,0 2,0a1,1 0 1,0 -2,0M191.52,367.80m-1,0a1,1 0 1,0 2,0a1,1 0 1,0 -2,0M194.68,371.05m-1,0a1,1 0 1,0 2,0a1,1 0 1,0 -2,0M197.83,367.80m-1,0a1,1 0 1,0 2,0a1,1 0 1,0 -2,0M200.99,355.58m-1,0a1,1 0 1,0 2,0a1,1 0 1,0 -2,0M204.14,366.17m-1,0a1,1 0 1,0 2,0a1,1 0 1,0 -2,0M207.30,374.31m-1,0a1,1 0 1,0 2,0a1,1 0 1,0 -2,0M210.45,375.94m-1,0a1,1 0 1,0 2,0a1,1 0 1,0 -2,0M213.61,372.68m-1,0a1,1 0 1,0 2,0a1,1 0 1,0 -2,0M216.76,375.94m-1,0a1,1 0 1,0 2,0a1,1 0 1,0 -2,0M219.92,362.10m-1,0a1,1 0 1,0 2,0a1,1 0 1,0 -2,0M223.07,379.20m-1,0a1,1 0 1,0 2,0a1,1 0 1,0 -2,0M226.23,362.10m-1,0a1,1 0 1,0 2,0a1,1 0 1,0 -2,0M229.38,369.42m-1,0a1,1 0 1,0 2,0a1,1 0 1,0 -2,0M232.54,365.35m-1,0a1,1 0 1,0 2,0a1,1 0 1,0 -2,0M235.69,365.64m-1,0a1,1 0 1,0 2,0a1,1 0 1,0 -2,0M238.85,372.51m-1,0a1,1 0 1,0 2,0a1,1 0 1,0 -2,0M242.00,373.08m-1,0a1,1 0 1,0 2,0a1,1 0 1,0 -2,0M245.16,370.22m-1,0a1,1 0 1,0 2,0a1,1 0 1,0 -2,0M248.31,367.36m-1,0a1,1 0 1,0 2,0a1,1 0 1,0 -2,0M251.47,367.36m-1,0a1,1 0 1,0 2,0a1,1 0 1,0 -2,0M254.62,359.90m-1,0a1,1 0 1,0 2,0a1,1 0 1,0 -2,0M257.78,367.36m-1,0a1,1 0 1,0 2,0a1,1 0 1,0 -2,0M260.93,379.40m-1,0a1,1 0 1,0 2,0a1,1 0 1,0 -2,0M264.09,369.07m-1,0a1,1 0 1,0 2,0a1,1 0 1,0 -2,0M267.25,369.65m-1,0a1,1 0 1,0 2,0a1,1 0 1,0 -2,0M270.40,385.14m-1,0a1,1 0 1,0 2,0a1,1 0 1,0 -2,0M273.55,385.71m-1,0a1,1 0 1,0 2,0a1,1 0 1,0 -2,0M276.71,389.72m-1,0a1,1 0 1,0 2,0a1,1 0 1,0 -2,0M279.87,375.96m-1,0a1,1 0 1,0 2,0a1,1 0 1,0 -2,0M283.02,363.92m-1,0a1,1 0 1,0 2,0a1,1 0 1,0 -2,0M286.18,369.65m-1,0a1,1 0 1,0 2,0a1,1 0 1,0 -2,0M289.33,367.93m-1,0a1,1 0 1,0 2,0a1,1 0 1,0 -2,0M292.48,382.83m-1,0a1,1 0 1,0 2,0a1,1 0 1,0 -2,0M295.64,372.53m-1,0a1,1 0 1,0 2,0a1,1 0 1,0 -2,0M298.79,375.39m-1,0a1,1 0 1,0 2,0a1,1 0 1,0 -2,0M301.95,378.25m-1,0a1,1 0 1,0 2,0a1,1 0 1,0 -2,0M305.10,381.69m-1,0a1,1 0 1,0 2,0a1,1 0 1,0 -2,0M308.26,376.53m-1,0a1,1 0 1,0 2,0a1,1 0 1,0 -2,0M311.41,378.82m-1,0a1,1 0 1,0 2,0a1,1 0 1,0 -2,0" fill="#e42222"/>
<line x1="258.5" y1="325.00" x2="266.5" y2="325.00" stroke="#3c3" stroke-width="0.9"/>
<circle cx="262.5" cy="325.00" r="0.9" fill="#3c3"/>
<text x="269.0" y="326.60" font-family='"Liberation Serif", serif' font-size="5.6" fill="#333" textLength="57" lengthAdjust="spacingAndGlyphs">Neutralizing antibody titers</text>
<line x1="258.5" y1="331.90" x2="266.5" y2="331.90" stroke="#e02020" stroke-width="0.9"/>
<circle cx="262.5" cy="331.90" r="0.9" fill="#e02020"/>
<text x="269.0" y="333.50" font-family='"Liberation Serif", serif' font-size="5.6" fill="#333">S1 OD<tspan font-size="3.8" dy="1.2">450</tspan></text>
<line x1="258.5" y1="338.80" x2="266.5" y2="338.80" stroke="#1a1aa8" stroke-width="0.9"/>
<circle cx="262.5" cy="338.80" r="0.9" fill="#1a1aa8"/>
<text x="269.0" y="340.40" font-family='"Liberation Serif", serif' font-size="5.6" fill="#333">E OD<tspan font-size="3.8" dy="1.2">450</tspan></text>
<line x1="258.5" y1="345.70" x2="266.5" y2="345.70" stroke="#f2c796" stroke-width="0.9"/>
<circle cx="262.5" cy="345.70" r="0.9" fill="#f2c796"/>
<text x="269.0" y="347.30" font-family='"Liberation Serif", serif' font-size="5.6" fill="#333">M OD<tspan font-size="3.8" dy="1.2">450</tspan></text>
<line x1="258.5" y1="352.60" x2="266.5" y2="352.60" stroke="#a040e0" stroke-width="0.9"/>
<circle cx="262.5" cy="352.60" r="0.9" fill="#a040e0"/>
<text x="269.0" y="354.20" font-family='"Liberation Serif", serif' font-size="5.6" fill="#333">N OD<tspan font-size="3.8" dy="1.2">450</tspan></text>
<path d="M359.25,342 V414 H660.2 V342" fill="none" stroke="#444" stroke-width="1"/>
<line x1="357.65" y1="414.00" x2="359.25" y2="414.00" stroke="#222" stroke-width="0.8"/>
<text transform="translate(357.45,415.90) scale(0.85,1)" text-anchor="end" font-family='"Liberation Sans", sans-serif' font-weight="bold" font-size="5.4" fill="#333">0</text>
<line x1="357.65" y1="399.60" x2="359.25" y2="399.60" stroke="#222" stroke-width="0.8"/>
<text transform="translate(357.45,401.50) scale(0.85,1)" text-anchor="end" font-family='"Liberation Sans", sans-serif' font-weight="bold" font-size="5.4" fill="#333">2</text>
<line x1="357.65" y1="385.20" x2="359.25" y2="385.20" stroke="#222" stroke-width="0.8"/>
<text transform="translate(357.45,387.10) scale(0.85,1)" text-anchor="end" font-family='"Liberation Sans", sans-serif' font-weight="bold" font-size="5.4" fill="#333">4</text>
<line x1="357.65" y1="370.80" x2="359.25" y2="370.80" stroke="#222" stroke-width="0.8"/>
<text transform="translate(357.45,372.70) scale(0.85,1)" text-anchor="end" font-family='"Liberation Sans", sans-serif' font-weight="bold" font-size="5.4" fill="#333">6</text>
<line x1="357.65" y1="356.40" x2="359.25" y2="356.40" stroke="#222" stroke-width="0.8"/>
<text transform="translate(357.45,358.30) scale(0.85,1)" text-anchor="end" font-family='"Liberation Sans", sans-serif' font-weight="bold" font-size="5.4" fill="#333">8</text>
<line x1="357.65" y1="342.00" x2="359.25" y2="342.00" stroke="#222" stroke-width="0.8"/>
<text transform="translate(357.45,343.90) scale(0.85,1)" text-anchor="end" font-family='"Liberation Sans", sans-serif' font-weight="bold" font-size="5.4" fill="#333">10</text>
<line x1="660.2" y1="414.00" x2="661.8000000000001" y2="414.00" stroke="#222" stroke-width="0.8"/>
<text transform="translate(662.4000000000001,415.90) scale(0.85,1)" font-family='"Liberation Sans", sans-serif' font-weight="bold" font-size="5.4" fill="#333">0</text>
<line x1="660.2" y1="390.00" x2="661.8000000000001" y2="390.00" stroke="#222" stroke-width="0.8"/>
<text transform="translate(662.4000000000001,391.90) scale(0.85,1)" font-family='"Liberation Sans", sans-serif' font-weight="bold" font-size="5.4" fill="#333">1</text>
<line x1="660.2" y1="366.00" x2="661.8000000000001" y2="366.00" stroke="#222" stroke-width="0.8"/>
<text transform="translate(662.4000000000001,367.90) scale(0.85,1)" font-family='"Liberation Sans", sans-serif' font-weight="bold" font-size="5.4" fill="#333">2</text>
<line x1="660.2" y1="342.00" x2="661.8000000000001" y2="342.00" stroke="#222" stroke-width="0.8"/>
<text transform="translate(662.4000000000001,343.90) scale(0.85,1)" font-family='"Liberation Sans", sans-serif' font-weight="bold" font-size="5.4" fill="#333">3</text>
<line x1="359.25" y1="414" x2="359.25" y2="415.6" stroke="#222" stroke-width="0.8"/>
<text transform="translate(359.25,421.00) scale(0.85,1)" text-anchor="middle" font-family='"Liberation Sans", sans-serif' font-weight="bold" font-size="5.4" fill="#333">0</text>
<line x1="375.10" y1="414" x2="375.10" y2="415.6" stroke="#222" stroke-width="0.8"/>
<text transform="translate(375.10,421.00) scale(0.85,1)" text-anchor="middle" font-family='"Liberation Sans", sans-serif' font-weight="bold" font-size="5.4" fill="#333">5</text>
<line x1="390.95" y1="414" x2="390.95" y2="415.6" stroke="#222" stroke-width="0.8"/>
<text transform="translate(390.95,421.00) scale(0.85,1)" text-anchor="middle" font-family='"Liberation Sans", sans-serif' font-weight="bold" font-size="5.4" fill="#333">10</text>
<line x1="406.80" y1="414" x2="406.80" y2="415.6" stroke="#222" stroke-width="0.8"/>
<text transform="translate(406.80,421.00) scale(0.85,1)" text-anchor="middle" font-family='"Liberation Sans", sans-serif' font-weight="bold" font-size="5.4" fill="#333">15</text>
<line x1="422.65" y1="414" x2="422.65" y2="415.6" stroke="#222" stroke-width="0.8"/>
<text transform="translate(422.65,421.00) scale(0.85,1)" text-anchor="middle" font-family='"Liberation Sans", sans-serif' font-weight="bold" font-size="5.4" fill="#333">20</text>
<line x1="438.50" y1="414" x2="438.50" y2="415.6" stroke="#222" stroke-width="0.8"/>
<text transform="translate(438.50,421.00) scale(0.85,1)" text-anchor="middle" font-family='"Liberation Sans", sans-serif' font-weight="bold" font-size="5.4" fill="#333">25</text>
<line x1="454.35" y1="414" x2="454.35" y2="415.6" stroke="#222" stroke-width="0.8"/>
<text transform="translate(454.35,421.00) scale(0.85,1)" text-anchor="middle" font-family='"Liberation Sans", sans-serif' font-weight="bold" font-size="5.4" fill="#333">30</text>
<line x1="470.20" y1="414" x2="470.20" y2="415.6" stroke="#222" stroke-width="0.8"/>
<text transform="translate(470.20,421.00) scale(0.85,1)" text-anchor="middle" font-family='"Liberation Sans", sans-serif' font-weight="bold" font-size="5.4" fill="#333">35</text>
<line x1="486.05" y1="414" x2="486.05" y2="415.6" stroke="#222" stroke-width="0.8"/>
<text transform="translate(486.05,421.00) scale(0.85,1)" text-anchor="middle" font-family='"Liberation Sans", sans-serif' font-weight="bold" font-size="5.4" fill="#333">40</text>
<line x1="501.90" y1="414" x2="501.90" y2="415.6" stroke="#222" stroke-width="0.8"/>
<text transform="translate(501.90,421.00) scale(0.85,1)" text-anchor="middle" font-family='"Liberation Sans", sans-serif' font-weight="bold" font-size="5.4" fill="#333">45</text>
<line x1="517.75" y1="414" x2="517.75" y2="415.6" stroke="#222" stroke-width="0.8"/>
<text transform="translate(517.75,421.00) scale(0.85,1)" text-anchor="middle" font-family='"Liberation Sans", sans-serif' font-weight="bold" font-size="5.4" fill="#333">50</text>
<line x1="533.60" y1="414" x2="533.60" y2="415.6" stroke="#222" stroke-width="0.8"/>
<text transform="translate(533.60,421.00) scale(0.85,1)" text-anchor="middle" font-family='"Liberation Sans", sans-serif' font-weight="bold" font-size="5.4" fill="#333">55</text>
<line x1="549.45" y1="414" x2="549.45" y2="415.6" stroke="#222" stroke-width="0.8"/>
<text transform="translate(549.45,421.00) scale(0.85,1)" text-anchor="middle" font-family='"Liberation Sans", sans-serif' font-weight="bold" font-size="5.4" fill="#333">60</text>
<line x1="565.30" y1="414" x2="565.30" y2="415.6" stroke="#222" stroke-width="0.8"/>
<text transform="translate(565.30,421.00) scale(0.85,1)" text-anchor="middle" font-family='"Liberation Sans", sans-serif' font-weight="bold" font-size="5.4" fill="#333">65</text>
<line x1="581.15" y1="414" x2="581.15" y2="415.6" stroke="#222" stroke-width="0.8"/>
<text transform="translate(581.15,421.00) scale(0.85,1)" text-anchor="middle" font-family='"Liberation Sans", sans-serif' font-weight="bold" font-size="5.4" fill="#333">70</text>
<line x1="597.00" y1="414" x2="597.00" y2="415.6" stroke="#222" stroke-width="0.8"/>
<text transform="translate(597.00,421.00) scale(0.85,1)" text-anchor="middle" font-family='"Liberation Sans", sans-serif' font-weight="bold" font-size="5.4" fill="#333">75</text>
<line x1="612.85" y1="414" x2="612.85" y2="415.6" stroke="#222" stroke-width="0.8"/>
<text transform="translate(612.85,421.00) scale(0.85,1)" text-anchor="middle" font-family='"Liberation Sans", sans-serif' font-weight="bold" font-size="5.4" fill="#333">80</text>
<line x1="628.70" y1="414" x2="628.70" y2="415.6" stroke="#222" stroke-width="0.8"/>
<text transform="translate(628.70,421.00) scale(0.85,1)" text-anchor="middle" font-family='"Liberation Sans", sans-serif' font-weight="bold" font-size="5.4" fill="#333">85</text>
<line x1="644.55" y1="414" x2="644.55" y2="415.6" stroke="#222" stroke-width="0.8"/>
<text transform="translate(644.55,421.00) scale(0.85,1)" text-anchor="middle" font-family='"Liberation Sans", sans-serif' font-weight="bold" font-size="5.4" fill="#333">90</text>
<line x1="660.40" y1="414" x2="660.40" y2="415.6" stroke="#222" stroke-width="0.8"/>
<text transform="translate(660.40,421.00) scale(0.85,1)" text-anchor="middle" font-family='"Liberation Sans", sans-serif' font-weight="bold" font-size="5.4" fill="#333">95</text>
<text x="440" y="334" font-family='"Liberation Serif", serif' font-weight="bold" font-size="5.6" fill="#111" textLength="137.5" lengthAdjust="spacingAndGlyphs">Correlation between IgA-ELISA and Neutralization in serum</text>
<text x="484.8" y="433.2" font-family='"Liberation Serif", serif' font-weight="bold" font-size="5.6" fill="#111" textLength="50.5" lengthAdjust="spacingAndGlyphs">The number of samples</text>
<text transform="translate(349.35,378.5) rotate(-90)" text-anchor="middle" font-family='"Liberation Serif", serif' font-weight="bold" font-size="5.6" fill="#111" textLength="64" lengthAdjust="spacingAndGlyphs">Neutralizing antibody titers</text>
<text transform="translate(671.0,378.0) rotate(90)" text-anchor="middle" font-family='"Liberation Serif", serif' font-weight="bold" font-size="5.4" fill="#111">OD<tspan font-size="3.8" dy="1.2">450</tspan></text>
<polyline points="362.42,395.75 365.59,397.00 368.76,398.25 371.93,395.75 375.10,398.25 378.27,397.00 381.44,394.50 384.61,393.25 387.78,399.50 390.95,399.50 394.12,398.25 397.29,397.00 400.46,400.75 403.63,399.50 406.80,402.00 409.97,399.50 413.14,398.25 416.31,397.00 419.48,399.50 422.65,404.50 425.82,399.50 428.99,399.50 432.16,400.75 435.33,399.50 438.50,395.75 441.67,402.00 444.84,403.25 448.01,400.75 451.18,404.50 454.35,402.00 457.52,399.50 460.69,400.75 463.86,397.00 467.03,397.00 470.20,397.00 473.37,394.50 476.54,392.00 479.71,395.75 482.88,393.25 486.05,394.50 489.22,397.00 492.39,388.25 495.56,395.75 498.73,402.00 501.90,399.50 505.07,392.26 508.24,392.26 511.41,396.62 514.58,392.26 517.75,395.75 520.92,392.26 524.09,401.85 527.26,407.94 530.43,390.52 533.60,397.49 536.77,390.52 539.94,394.01 543.11,392.26 546.28,396.62 549.45,395.75 552.62,395.75 555.79,389.65 558.96,397.49 562.13,390.52 565.30,400.98 568.47,397.49 571.64,392.26 574.81,398.36 577.98,392.26 581.15,395.75 584.32,400.10 587.49,401.85 590.66,400.10 593.83,397.49 597.00,392.26 600.17,398.36 603.34,398.36 606.51,394.01 609.68,397.49 612.85,397.49 616.02,393.14 619.19,395.75 622.36,394.01 625.53,399.23 628.70,403.59 631.87,393.14 635.04,400.10 638.21,405.33 641.38,397.49 644.55,403.59 647.72,404.46 650.89,397.49 654.06,401.85" fill="none" stroke="#f5c58f" stroke-width="0.95" stroke-linejoin="round"/>
<polyline points="362.42,392.26 365.59,395.75 368.76,377.46 371.93,386.17 375.10,395.75 378.27,392.26 381.44,377.46 384.61,408.99 387.78,407.94 390.95,406.03 394.12,403.07 397.29,388.08 400.46,396.10 403.63,398.54 406.80,396.97 409.97,390.00 413.14,381.81 416.31,388.78 419.48,399.23 422.65,406.20 425.82,400.98 428.99,400.10 432.16,399.23 435.33,397.49 438.50,395.75 441.67,400.98 444.84,399.23 448.01,390.52 451.18,380.94 454.35,387.04 457.52,392.26 460.69,382.68 463.86,394.01 467.03,380.07 470.20,386.17 473.37,388.78 476.54,386.17 479.71,381.81 482.88,380.94 486.05,377.46 489.22,380.94 492.39,384.43 495.56,381.81 498.73,383.55 501.90,401.85 505.07,377.46 508.24,374.84 511.41,371.36 514.58,405.33 517.75,406.20 520.92,406.20 524.09,404.46 527.26,407.07 530.43,402.72 533.60,406.20 536.77,404.46 539.94,402.72 543.11,405.33 546.28,406.20 549.45,402.72 552.62,407.94 555.79,392.26 558.96,406.20 562.13,392.26 565.30,404.46 568.47,401.85 571.64,405.33 574.81,404.46 577.98,405.33 581.15,407.07 584.32,407.07 587.49,403.59 590.66,410.56 593.83,410.56 597.00,400.10 600.17,407.94 603.34,409.69 606.51,408.82 609.68,400.98 612.85,410.56 616.02,410.56 619.19,411.43 622.36,403.59 625.53,410.56 628.70,409.69 631.87,411.43 635.04,411.43 638.21,408.82 641.38,409.69 644.55,408.82 647.72,409.69 650.89,408.82 654.06,407.94" fill="none" stroke="#a23be8" stroke-width="0.95" stroke-linejoin="round"/>
<polyline points="362.42,377.46 365.59,385.30 368.76,377.46 371.93,385.30 375.10,370.49 378.27,370.49 381.44,385.30 384.61,399.23 387.78,399.23 390.95,399.23 394.12,385.30 397.29,377.46 400.46,385.30 403.63,377.46 406.80,392.26 409.97,385.30 413.14,377.46 416.31,377.46 419.48,377.46 422.65,407.07 425.82,407.07 428.99,377.46 432.16,377.46 435.33,377.46 438.50,397.49 441.67,377.46 444.84,377.46 448.01,377.46 451.18,371.36 454.35,377.46 457.52,371.36 460.69,371.36 463.86,392.26 467.03,371.36 470.20,371.36 473.37,371.36 476.54,371.36 479.71,356.55 482.88,356.55 486.05,356.55 489.22,356.55 492.39,377.46 495.56,377.46 498.73,356.55 501.90,377.46 505.07,356.55 508.24,371.36 511.41,359.16 514.58,383.55 517.75,372.23 520.92,392.26 524.09,385.30 527.26,385.30 530.43,370.49 533.60,385.30 536.77,385.30 539.94,370.49 543.11,376.59 546.28,385.30 549.45,385.30 552.62,392.26 555.79,392.26 558.96,377.46 562.13,385.30 565.30,385.30 568.47,370.49 571.64,377.46 574.81,370.49 577.98,385.30 581.15,377.46 584.32,385.30 587.49,377.46 590.66,377.46 593.83,370.49 597.00,384.43 600.17,399.23 603.34,399.23 606.51,385.30 609.68,399.23 612.85,406.20 616.02,406.20 619.19,406.20 622.36,397.49 625.53,406.20 628.70,406.20 631.87,407.94 635.04,408.82 638.21,407.07 641.38,407.94 644.55,407.07 647.72,407.94 650.89,408.82 654.06,408.82" fill="none" stroke="#2fc82f" stroke-width="0.95" stroke-linejoin="round"/>
<path d="M361.52,376.56h1.8v1.8h-1.8zM364.69,384.40h1.8v1.8h-1.8zM367.86,376.56h1.8v1.8h-1.8zM371.03,384.40h1.8v1.8h-1.8zM374.20,369.59h1.8v1.8h-1.8zM377.37,369.59h1.8v1.8h-1.8zM380.54,384.40h1.8v1.8h-1.8zM383.71,398.33h1.8v1.8h-1.8zM386.88,398.33h1.8v1.8h-1.8zM390.05,398.33h1.8v1.8h-1.8zM393.22,384.40h1.8v1.8h-1.8zM396.39,376.56h1.8v1.8h-1.8zM399.56,384.40h1.8v1.8h-1.8zM402.73,376.56h1.8v1.8h-1.8zM405.90,391.36h1.8v1.8h-1.8zM409.07,384.40h1.8v1.8h-1.8zM412.24,376.56h1.8v1.8h-1.8zM415.41,376.56h1.8v1.8h-1.8zM418.58,376.56h1.8v1.8h-1.8zM421.75,406.17h1.8v1.8h-1.8zM424.92,406.17h1.8v1.8h-1.8zM428.09,376.56h1.8v1.8h-1.8zM431.26,376.56h1.8v1.8h-1.8zM434.43,376.56h1.8v1.8h-1.8zM437.60,396.59h1.8v1.8h-1.8zM440.77,376.56h1.8v1.8h-1.8zM443.94,376.56h1.8v1.8h-1.8zM447.11,376.56h1.8v1.8h-1.8zM450.28,370.46h1.8v1.8h-1.8zM453.45,376.56h1.8v1.8h-1.8zM456.62,370.46h1.8v1.8h-1.8zM459.79,370.46h1.8v1.8h-1.8zM462.96,391.36h1.8v1.8h-1.8zM466.13,370.46h1.8v1.8h-1.8zM469.30,370.46h1.8v1.8h-1.8zM472.47,370.46h1.8v1.8h-1.8zM475.64,370.46h1.8v1.8h-1.8zM478.81,355.65h1.8v1.8h-1.8zM481.98,355.65h1.8v1.8h-1.8zM485.15,355.65h1.8v1.8h-1.8zM488.32,355.65h1.8v1.8h-1.8zM491.49,376.56h1.8v1.8h-1.8zM494.66,376.56h1.8v1.8h-1.8zM497.83,355.65h1.8v1.8h-1.8zM501.00,376.56h1.8v1.8h-1.8zM504.17,355.65h1.8v1.8h-1.8zM507.34,370.46h1.8v1.8h-1.8zM510.51,358.26h1.8v1.8h-1.8zM513.68,382.65h1.8v1.8h-1.8zM516.85,371.33h1.8v1.8h-1.8zM520.02,391.36h1.8v1.8h-1.8zM523.19,384.40h1.8v1.8h-1.8zM526.36,384.40h1.8v1.8h-1.8zM529.53,369.59h1.8v1.8h-1.8zM532.70,384.40h1.8v1.8h-1.8zM535.87,384.40h1.8v1.8h-1.8zM539.04,369.59h1.8v1.8h-1.8zM542.21,375.69h1.8v1.8h-1.8zM545.38,384.40h1.8v1.8h-1.8zM548.55,384.40h1.8v1.8h-1.8zM551.72,391.36h1.8v1.8h-1.8zM554.89,391.36h1.8v1.8h-1.8zM558.06,376.56h1.8v1.8h-1.8zM561.23,384.40h1.8v1.8h-1.8zM564.40,384.40h1.8v1.8h-1.8zM567.57,369.59h1.8v1.8h-1.8zM570.74,376.56h1.8v1.8h-1.8zM573.91,369.59h1.8v1.8h-1.8zM577.08,384.40h1.8v1.8h-1.8zM580.25,376.56h1.8v1.8h-1.8zM583.42,384.40h1.8v1.8h-1.8zM586.59,376.56h1.8v1.8h-1.8zM589.76,376.56h1.8v1.8h-1.8zM592.93,369.59h1.8v1.8h-1.8zM596.10,383.53h1.8v1.8h-1.8zM599.27,398.33h1.8v1.8h-1.8zM602.44,398.33h1.8v1.8h-1.8zM605.61,384.40h1.8v1.8h-1.8zM608.78,398.33h1.8v1.8h-1.8zM611.95,405.30h1.8v1.8h-1.8zM615.12,405.30h1.8v1.8h-1.8zM618.29,405.30h1.8v1.8h-1.8zM621.46,396.59h1.8v1.8h-1.8zM624.63,405.30h1.8v1.8h-1.8zM627.80,405.30h1.8v1.8h-1.8zM630.97,407.04h1.8v1.8h-1.8zM634.14,407.92h1.8v1.8h-1.8zM637.31,406.17h1.8v1.8h-1.8zM640.48,407.04h1.8v1.8h-1.8zM643.65,406.17h1.8v1.8h-1.8zM646.82,407.04h1.8v1.8h-1.8zM649.99,407.92h1.8v1.8h-1.8zM653.16,407.92h1.8v1.8h-1.8z" fill="#2fc82f"/>
<polyline points="362.42,362.65 365.59,372.23 368.76,364.39 371.93,367.87 375.10,362.65 378.27,364.04 381.44,374.84 384.61,382.68 387.78,389.65 390.95,390.52 394.12,373.97 397.29,371.36 400.46,376.59 403.63,373.97 406.80,381.81 409.97,373.97 413.14,371.36 416.31,368.75 419.48,367.53 422.65,405.33 425.82,400.10 428.99,370.49 432.16,370.49 435.33,368.75 438.50,397.49 441.67,370.49 444.84,369.62 448.01,368.75 451.18,367.87 454.35,366.13 457.52,367.87 460.69,364.39 463.86,371.36 467.03,364.39 470.20,368.75 473.37,367.00 476.54,365.26 479.71,363.52 482.88,361.78 486.05,358.29 489.22,361.78 492.39,358.29 495.56,357.42 498.73,353.07 501.90,356.55 505.07,352.20 508.24,356.55 511.41,355.68 514.58,377.46 517.75,369.62 520.92,371.36 524.09,376.59 527.26,380.07 530.43,384.43 533.60,381.81 536.77,380.07 539.94,377.46 543.11,379.20 546.28,384.43 549.45,381.81 552.62,385.30 555.79,389.65 558.96,392.26 562.13,384.43 565.30,385.30 568.47,381.81 571.64,385.30 574.81,387.91 577.98,392.26 581.15,387.04 584.32,387.91 587.49,390.52 590.66,394.01 593.83,392.26 597.00,384.43 600.17,392.26 603.34,394.01 606.51,387.04 609.68,397.49 612.85,407.07 616.02,407.07 619.19,406.20 622.36,397.49 625.53,405.33 628.70,407.07 631.87,408.82 635.04,408.82 638.21,406.20 641.38,407.07 644.55,407.07 647.72,407.94 650.89,407.94 654.06,408.82" fill="none" stroke="#e42222" stroke-width="0.95" stroke-linejoin="round"/>
<path d="M362.42,362.65m-1,0a1,1 0 1,0 2,0a1,1 0 1,0 -2,0M365.59,372.23m-1,0a1,1 0 1,0 2,0a1,1 0 1,0 -2,0M368.76,364.39m-1,0a1,1 0 1,0 2,0a1,1 0 1,0 -2,0M371.93,367.87m-1,0a1,1 0 1,0 2,0a1,1 0 1,0 -2,0M375.10,362.65m-1,0a1,1 0 1,0 2,0a1,1 0 1,0 -2,0M378.27,364.04m-1,0a1,1 0 1,0 2,0a1,1 0 1,0 -2,0M381.44,374.84m-1,0a1,1 0 1,0 2,0a1,1 0 1,0 -2,0M384.61,382.68m-1,0a1,1 0 1,0 2,0a1,1 0 1,0 -2,0M387.78,389.65m-1,0a1,1 0 1,0 2,0a1,1 0 1,0 -2,0M390.95,390.52m-1,0a1,1 0 1,0 2,0a1,1 0 1,0 -2,0M394.12,373.97m-1,0a1,1 0 1,0 2,0a1,1 0 1,0 -2,0M397.29,371.36m-1,0a1,1 0 1,0 2,0a1,1 0 1,0 -2,0M400.46,376.59m-1,0a1,1 0 1,0 2,0a1,1 0 1,0 -2,0M403.63,373.97m-1,0a1,1 0 1,0 2,0a1,1 0 1,0 -2,0M406.80,381.81m-1,0a1,1 0 1,0 2,0a1,1 0 1,0 -2,0M409.97,373.97m-1,0a1,1 0 1,0 2,0a1,1 0 1,0 -2,0M413.14,371.36m-1,0a1,1 0 1,0 2,0a1,1 0 1,0 -2,0M416.31,368.75m-1,0a1,1 0 1,0 2,0a1,1 0 1,0 -2,0M419.48,367.53m-1,0a1,1 0 1,0 2,0a1,1 0 1,0 -2,0M422.65,405.33m-1,0a1,1 0 1,0 2,0a1,1 0 1,0 -2,0M425.82,400.10m-1,0a1,1 0 1,0 2,0a1,1 0 1,0 -2,0M428.99,370.49m-1,0a1,1 0 1,0 2,0a1,1 0 1,0 -2,0M432.16,370.49m-1,0a1,1 0 1,0 2,0a1,1 0 1,0 -2,0M435.33,368.75m-1,0a1,1 0 1,0 2,0a1,1 0 1,0 -2,0M438.50,397.49m-1,0a1,1 0 1,0 2,0a1,1 0 1,0 -2,0M441.67,370.49m-1,0a1,1 0 1,0 2,0a1,1 0 1,0 -2,0M444.84,369.62m-1,0a1,1 0 1,0 2,0a1,1 0 1,0 -2,0M448.01,368.75m-1,0a1,1 0 1,0 2,0a1,1 0 1,0 -2,0M451.18,367.87m-1,0a1,1 0 1,0 2,0a1,1 0 1,0 -2,0M454.35,366.13m-1,0a1,1 0 1,0 2,0a1,1 0 1,0 -2,0M457.52,367.87m-1,0a1,1 0 1,0 2,0a1,1 0 1,0 -2,0M460.69,364.39m-1,0a1,1 0 1,0 2,0a1,1 0 1,0 -2,0M463.86,371.36m-1,0a1,1 0 1,0 2,0a1,1 0 1,0 -2,0M467.03,364.39m-1,0a1,1 0 1,0 2,0a1,1 0 1,0 -2,0M470.20,368.75m-1,0a1,1 0 1,0 2,0a1,1 0 1,0 -2,0M473.37,367.00m-1,0a1,1 0 1,0 2,0a1,1 0 1,0 -2,0M476.54,365.26m-1,0a1,1 0 1,0 2,0a1,1 0 1,0 -2,0M479.71,363.52m-1,0a1,1 0 1,0 2,0a1,1 0 1,0 -2,0M482.88,361.78m-1,0a1,1 0 1,0 2,0a1,1 0 1,0 -2,0M486.05,358.29m-1,0a1,1 0 1,0 2,0a1,1 0 1,0 -2,0M489.22,361.78m-1,0a1,1 0 1,0 2,0a1,1 0 1,0 -2,0M492.39,358.29m-1,0a1,1 0 1,0 2,0a1,1 0 1,0 -2,0M495.56,357.42m-1,0a1,1 0 1,0 2,0a1,1 0 1,0 -2,0M498.73,353.07m-1,0a1,1 0 1,0 2,0a1,1 0 1,0 -2,0M501.90,356.55m-1,0a1,1 0 1,0 2,0a1,1 0 1,0 -2,0M505.07,352.20m-1,0a1,1 0 1,0 2,0a1,1 0 1,0 -2,0M508.24,356.55m-1,0a1,1 0 1,0 2,0a1,1 0 1,0 -2,0M511.41,355.68m-1,0a1,1 0 1,0 2,0a1,1 0 1,0 -2,0M514.58,377.46m-1,0a1,1 0 1,0 2,0a1,1 0 1,0 -2,0M517.75,369.62m-1,0a1,1 0 1,0 2,0a1,1 0 1,0 -2,0M520.92,371.36m-1,0a1,1 0 1,0 2,0a1,1 0 1,0 -2,0M524.09,376.59m-1,0a1,1 0 1,0 2,0a1,1 0 1,0 -2,0M527.26,380.07m-1,0a1,1 0 1,0 2,0a1,1 0 1,0 -2,0M530.43,384.43m-1,0a1,1 0 1,0 2,0a1,1 0 1,0 -2,0M533.60,381.81m-1,0a1,1 0 1,0 2,0a1,1 0 1,0 -2,0M536.77,380.07m-1,0a1,1 0 1,0 2,0a1,1 0 1,0 -2,0M539.94,377.46m-1,0a1,1 0 1,0 2,0a1,1 0 1,0 -2,0M543.11,379.20m-1,0a1,1 0 1,0 2,0a1,1 0 1,0 -2,0M546.28,384.43m-1,0a1,1 0 1,0 2,0a1,1 0 1,0 -2,0M549.45,381.81m-1,0a1,1 0 1,0 2,0a1,1 0 1,0 -2,0M552.62,385.30m-1,0a1,1 0 1,0 2,0a1,1 0 1,0 -2,0M555.79,389.65m-1,0a1,1 0 1,0 2,0a1,1 0 1,0 -2,0M558.96,392.26m-1,0a1,1 0 1,0 2,0a1,1 0 1,0 -2,0M562.13,384.43m-1,0a1,1 0 1,0 2,0a1,1 0 1,0 -2,0M565.30,385.30m-1,0a1,1 0 1,0 2,0a1,1 0 1,0 -2,0M568.47,381.81m-1,0a1,1 0 1,0 2,0a1,1 0 1,0 -2,0M571.64,385.30m-1,0a1,1 0 1,0 2,0a1,1 0 1,0 -2,0M574.81,387.91m-1,0a1,1 0 1,0 2,0a1,1 0 1,0 -2,0M577.98,392.26m-1,0a1,1 0 1,0 2,0a1,1 0 1,0 -2,0M581.15,387.04m-1,0a1,1 0 1,0 2,0a1,1 0 1,0 -2,0M584.32,387.91m-1,0a1,1 0 1,0 2,0a1,1 0 1,0 -2,0M587.49,390.52m-1,0a1,1 0 1,0 2,0a1,1 0 1,0 -2,0M590.66,394.01m-1,0a1,1 0 1,0 2,0a1,1 0 1,0 -2,0M593.83,392.26m-1,0a1,1 0 1,0 2,0a1,1 0 1,0 -2,0M597.00,384.43m-1,0a1,1 0 1,0 2,0a1,1 0 1,0 -2,0M600.17,392.26m-1,0a1,1 0 1,0 2,0a1,1 0 1,0 -2,0M603.34,394.01m-1,0a1,1 0 1,0 2,0a1,1 0 1,0 -2,0M606.51,387.04m-1,0a1,1 0 1,0 2,0a1,1 0 1,0 -2,0M609.68,397.49m-1,0a1,1 0 1,0 2,0a1,1 0 1,0 -2,0M612.85,407.07m-1,0a1,1 0 1,0 2,0a1,1 0 1,0 -2,0M616.02,407.07m-1,0a1,1 0 1,0 2,0a1,1 0 1,0 -2,0M619.19,406.20m-1,0a1,1 0 1,0 2,0a1,1 0 1,0 -2,0M622.36,397.49m-1,0a1,1 0 1,0 2,0a1,1 0 1,0 -2,0M625.53,405.33m-1,0a1,1 0 1,0 2,0a1,1 0 1,0 -2,0M628.70,407.07m-1,0a1,1 0 1,0 2,0a1,1 0 1,0 -2,0M631.87,408.82m-1,0a1,1 0 1,0 2,0a1,1 0 1,0 -2,0M635.04,408.82m-1,0a1,1 0 1,0 2,0a1,1 0 1,0 -2,0M638.21,406.20m-1,0a1,1 0 1,0 2,0a1,1 0 1,0 -2,0M641.38,407.07m-1,0a1,1 0 1,0 2,0a1,1 0 1,0 -2,0M644.55,407.07m-1,0a1,1 0 1,0 2,0a1,1 0 1,0 -2,0M647.72,407.94m-1,0a1,1 0 1,0 2,0a1,1 0 1,0 -2,0M650.89,407.94m-1,0a1,1 0 1,0 2,0a1,1 0 1,0 -2,0M654.06,408.82m-1,0a1,1 0 1,0 2,0a1,1 0 1,0 -2,0" fill="#e42222"/>
<polyline points="362.42,404.46 365.59,404.81 368.76,394.01 371.93,403.59 375.10,403.59 378.27,403.07 381.44,390.52 384.61,409.69 387.78,409.69 390.95,409.69 394.12,407.07 397.29,396.62 400.46,401.85 403.63,404.11 406.80,407.07 409.97,405.85 413.14,398.36 416.31,401.85 419.48,404.46 422.65,408.82 425.82,404.46 428.99,404.46 432.16,405.33 435.33,407.94 438.50,402.72 441.67,404.46 444.84,406.20 448.01,403.59 451.18,401.85 454.35,405.33 457.52,394.01 460.69,390.52 463.86,397.49 467.03,393.14 470.20,404.46 473.37,389.65 476.54,399.23 479.71,398.36 482.88,402.72 486.05,400.98 489.22,400.98 492.39,401.32 495.56,400.98 498.73,397.49 501.90,398.36 505.07,382.68 508.24,396.62 511.41,383.55 514.58,390.52 517.75,392.26 520.92,380.07 524.09,399.23 527.26,402.72 530.43,399.23 533.60,398.36 536.77,395.75 539.94,394.01 543.11,407.07 546.28,401.85 549.45,400.98 552.62,403.59 555.79,400.98 558.96,406.20 562.13,401.85 565.30,407.07 568.47,401.85 571.64,406.20 574.81,395.75 577.98,400.10 581.15,408.82 584.32,406.20 587.49,405.33 590.66,403.59 593.83,404.46 597.00,400.10 600.17,406.20 603.34,408.82 606.51,409.69 609.68,402.72 612.85,407.07 616.02,403.59 619.19,405.33 622.36,401.85 625.53,407.94 628.70,408.82 631.87,410.56 635.04,410.56 638.21,408.82 641.38,408.82 644.55,407.94 647.72,408.82 650.89,407.94 654.06,403.59" fill="none" stroke="#1c1cc0" stroke-width="0.95" stroke-linejoin="round"/>
<path d="M361.22,403.26h2.4v2.4h-2.4zM364.39,403.61h2.4v2.4h-2.4zM367.56,392.81h2.4v2.4h-2.4zM370.73,402.39h2.4v2.4h-2.4zM373.90,402.39h2.4v2.4h-2.4zM377.07,401.87h2.4v2.4h-2.4zM380.24,389.32h2.4v2.4h-2.4zM383.41,408.49h2.4v2.4h-2.4zM386.58,408.49h2.4v2.4h-2.4zM389.75,408.49h2.4v2.4h-2.4zM392.92,405.87h2.4v2.4h-2.4zM396.09,395.42h2.4v2.4h-2.4zM399.26,400.65h2.4v2.4h-2.4zM402.43,402.91h2.4v2.4h-2.4zM405.60,405.87h2.4v2.4h-2.4zM408.77,404.65h2.4v2.4h-2.4zM411.94,397.16h2.4v2.4h-2.4zM415.11,400.65h2.4v2.4h-2.4zM418.28,403.26h2.4v2.4h-2.4zM421.45,407.62h2.4v2.4h-2.4zM424.62,403.26h2.4v2.4h-2.4zM427.79,403.26h2.4v2.4h-2.4zM430.96,404.13h2.4v2.4h-2.4zM434.13,406.74h2.4v2.4h-2.4zM437.30,401.52h2.4v2.4h-2.4zM440.47,403.26h2.4v2.4h-2.4zM443.64,405.00h2.4v2.4h-2.4zM446.81,402.39h2.4v2.4h-2.4zM449.98,400.65h2.4v2.4h-2.4zM453.15,404.13h2.4v2.4h-2.4zM456.32,392.81h2.4v2.4h-2.4zM459.49,389.32h2.4v2.4h-2.4zM462.66,396.29h2.4v2.4h-2.4zM465.83,391.94h2.4v2.4h-2.4zM469.00,403.26h2.4v2.4h-2.4zM472.17,388.45h2.4v2.4h-2.4zM475.34,398.03h2.4v2.4h-2.4zM478.51,397.16h2.4v2.4h-2.4zM481.68,401.52h2.4v2.4h-2.4zM484.85,399.78h2.4v2.4h-2.4zM488.02,399.78h2.4v2.4h-2.4zM491.19,400.12h2.4v2.4h-2.4zM494.36,399.78h2.4v2.4h-2.4zM497.53,396.29h2.4v2.4h-2.4zM500.70,397.16h2.4v2.4h-2.4zM503.87,381.48h2.4v2.4h-2.4zM507.04,395.42h2.4v2.4h-2.4zM510.21,382.35h2.4v2.4h-2.4zM513.38,389.32h2.4v2.4h-2.4zM516.55,391.06h2.4v2.4h-2.4zM519.72,378.87h2.4v2.4h-2.4zM522.89,398.03h2.4v2.4h-2.4zM526.06,401.52h2.4v2.4h-2.4zM529.23,398.03h2.4v2.4h-2.4zM532.40,397.16h2.4v2.4h-2.4zM535.57,394.55h2.4v2.4h-2.4zM538.74,392.81h2.4v2.4h-2.4zM541.91,405.87h2.4v2.4h-2.4zM545.08,400.65h2.4v2.4h-2.4zM548.25,399.78h2.4v2.4h-2.4zM551.42,402.39h2.4v2.4h-2.4zM554.59,399.78h2.4v2.4h-2.4zM557.76,405.00h2.4v2.4h-2.4zM560.93,400.65h2.4v2.4h-2.4zM564.10,405.87h2.4v2.4h-2.4zM567.27,400.65h2.4v2.4h-2.4zM570.44,405.00h2.4v2.4h-2.4zM573.61,394.55h2.4v2.4h-2.4zM576.78,398.90h2.4v2.4h-2.4zM579.95,407.62h2.4v2.4h-2.4zM583.12,405.00h2.4v2.4h-2.4zM586.29,404.13h2.4v2.4h-2.4zM589.46,402.39h2.4v2.4h-2.4zM592.63,403.26h2.4v2.4h-2.4zM595.80,398.90h2.4v2.4h-2.4zM598.97,405.00h2.4v2.4h-2.4zM602.14,407.62h2.4v2.4h-2.4zM605.31,408.49h2.4v2.4h-2.4zM608.48,401.52h2.4v2.4h-2.4zM611.65,405.87h2.4v2.4h-2.4zM614.82,402.39h2.4v2.4h-2.4zM617.99,404.13h2.4v2.4h-2.4zM621.16,400.65h2.4v2.4h-2.4zM624.33,406.74h2.4v2.4h-2.4zM627.50,407.62h2.4v2.4h-2.4zM630.67,409.36h2.4v2.4h-2.4zM633.84,409.36h2.4v2.4h-2.4zM637.01,407.62h2.4v2.4h-2.4zM640.18,407.62h2.4v2.4h-2.4zM643.35,406.74h2.4v2.4h-2.4zM646.52,407.62h2.4v2.4h-2.4zM649.69,406.74h2.4v2.4h-2.4zM652.86,402.39h2.4v2.4h-2.4z" fill="#1c1cc0"/>
<line x1="592.6" y1="330.80" x2="600.6" y2="330.80" stroke="#3c3" stroke-width="0.9"/>
<circle cx="596.6" cy="330.80" r="0.9" fill="#3c3"/>
<text x="603.1" y="332.40" font-family='"Liberation Serif", serif' font-size="5.6" fill="#333" textLength="57" lengthAdjust="spacingAndGlyphs">Neutralizing antibody titers</text>
<line x1="592.6" y1="337.70" x2="600.6" y2="337.70" stroke="#e02020" stroke-width="0.9"/>
<circle cx="596.6" cy="337.70" r="0.9" fill="#e02020"/>
<text x="603.1" y="339.30" font-family='"Liberation Serif", serif' font-size="5.6" fill="#333">S1 OD<tspan font-size="3.8" dy="1.2">450</tspan></text>
<line x1="592.6" y1="344.60" x2="600.6" y2="344.60" stroke="#1a1aa8" stroke-width="0.9"/>
<circle cx="596.6" cy="344.60" r="0.9" fill="#1a1aa8"/>
<text x="603.1" y="346.20" font-family='"Liberation Serif", serif' font-size="5.6" fill="#333">E OD<tspan font-size="3.8" dy="1.2">450</tspan></text>
<line x1="592.6" y1="351.50" x2="600.6" y2="351.50" stroke="#f2c796" stroke-width="0.9"/>
<circle cx="596.6" cy="351.50" r="0.9" fill="#f2c796"/>
<text x="603.1" y="353.10" font-family='"Liberation Serif", serif' font-size="5.6" fill="#333">M OD<tspan font-size="3.8" dy="1.2">450</tspan></text>
<line x1="592.6" y1="358.40" x2="600.6" y2="358.40" stroke="#a040e0" stroke-width="0.9"/>
<circle cx="596.6" cy="358.40" r="0.9" fill="#a040e0"/>
<text x="603.1" y="360.00" font-family='"Liberation Serif", serif' font-size="5.6" fill="#333">N OD<tspan font-size="3.8" dy="1.2">450</tspan></text>
</svg></body></html>
